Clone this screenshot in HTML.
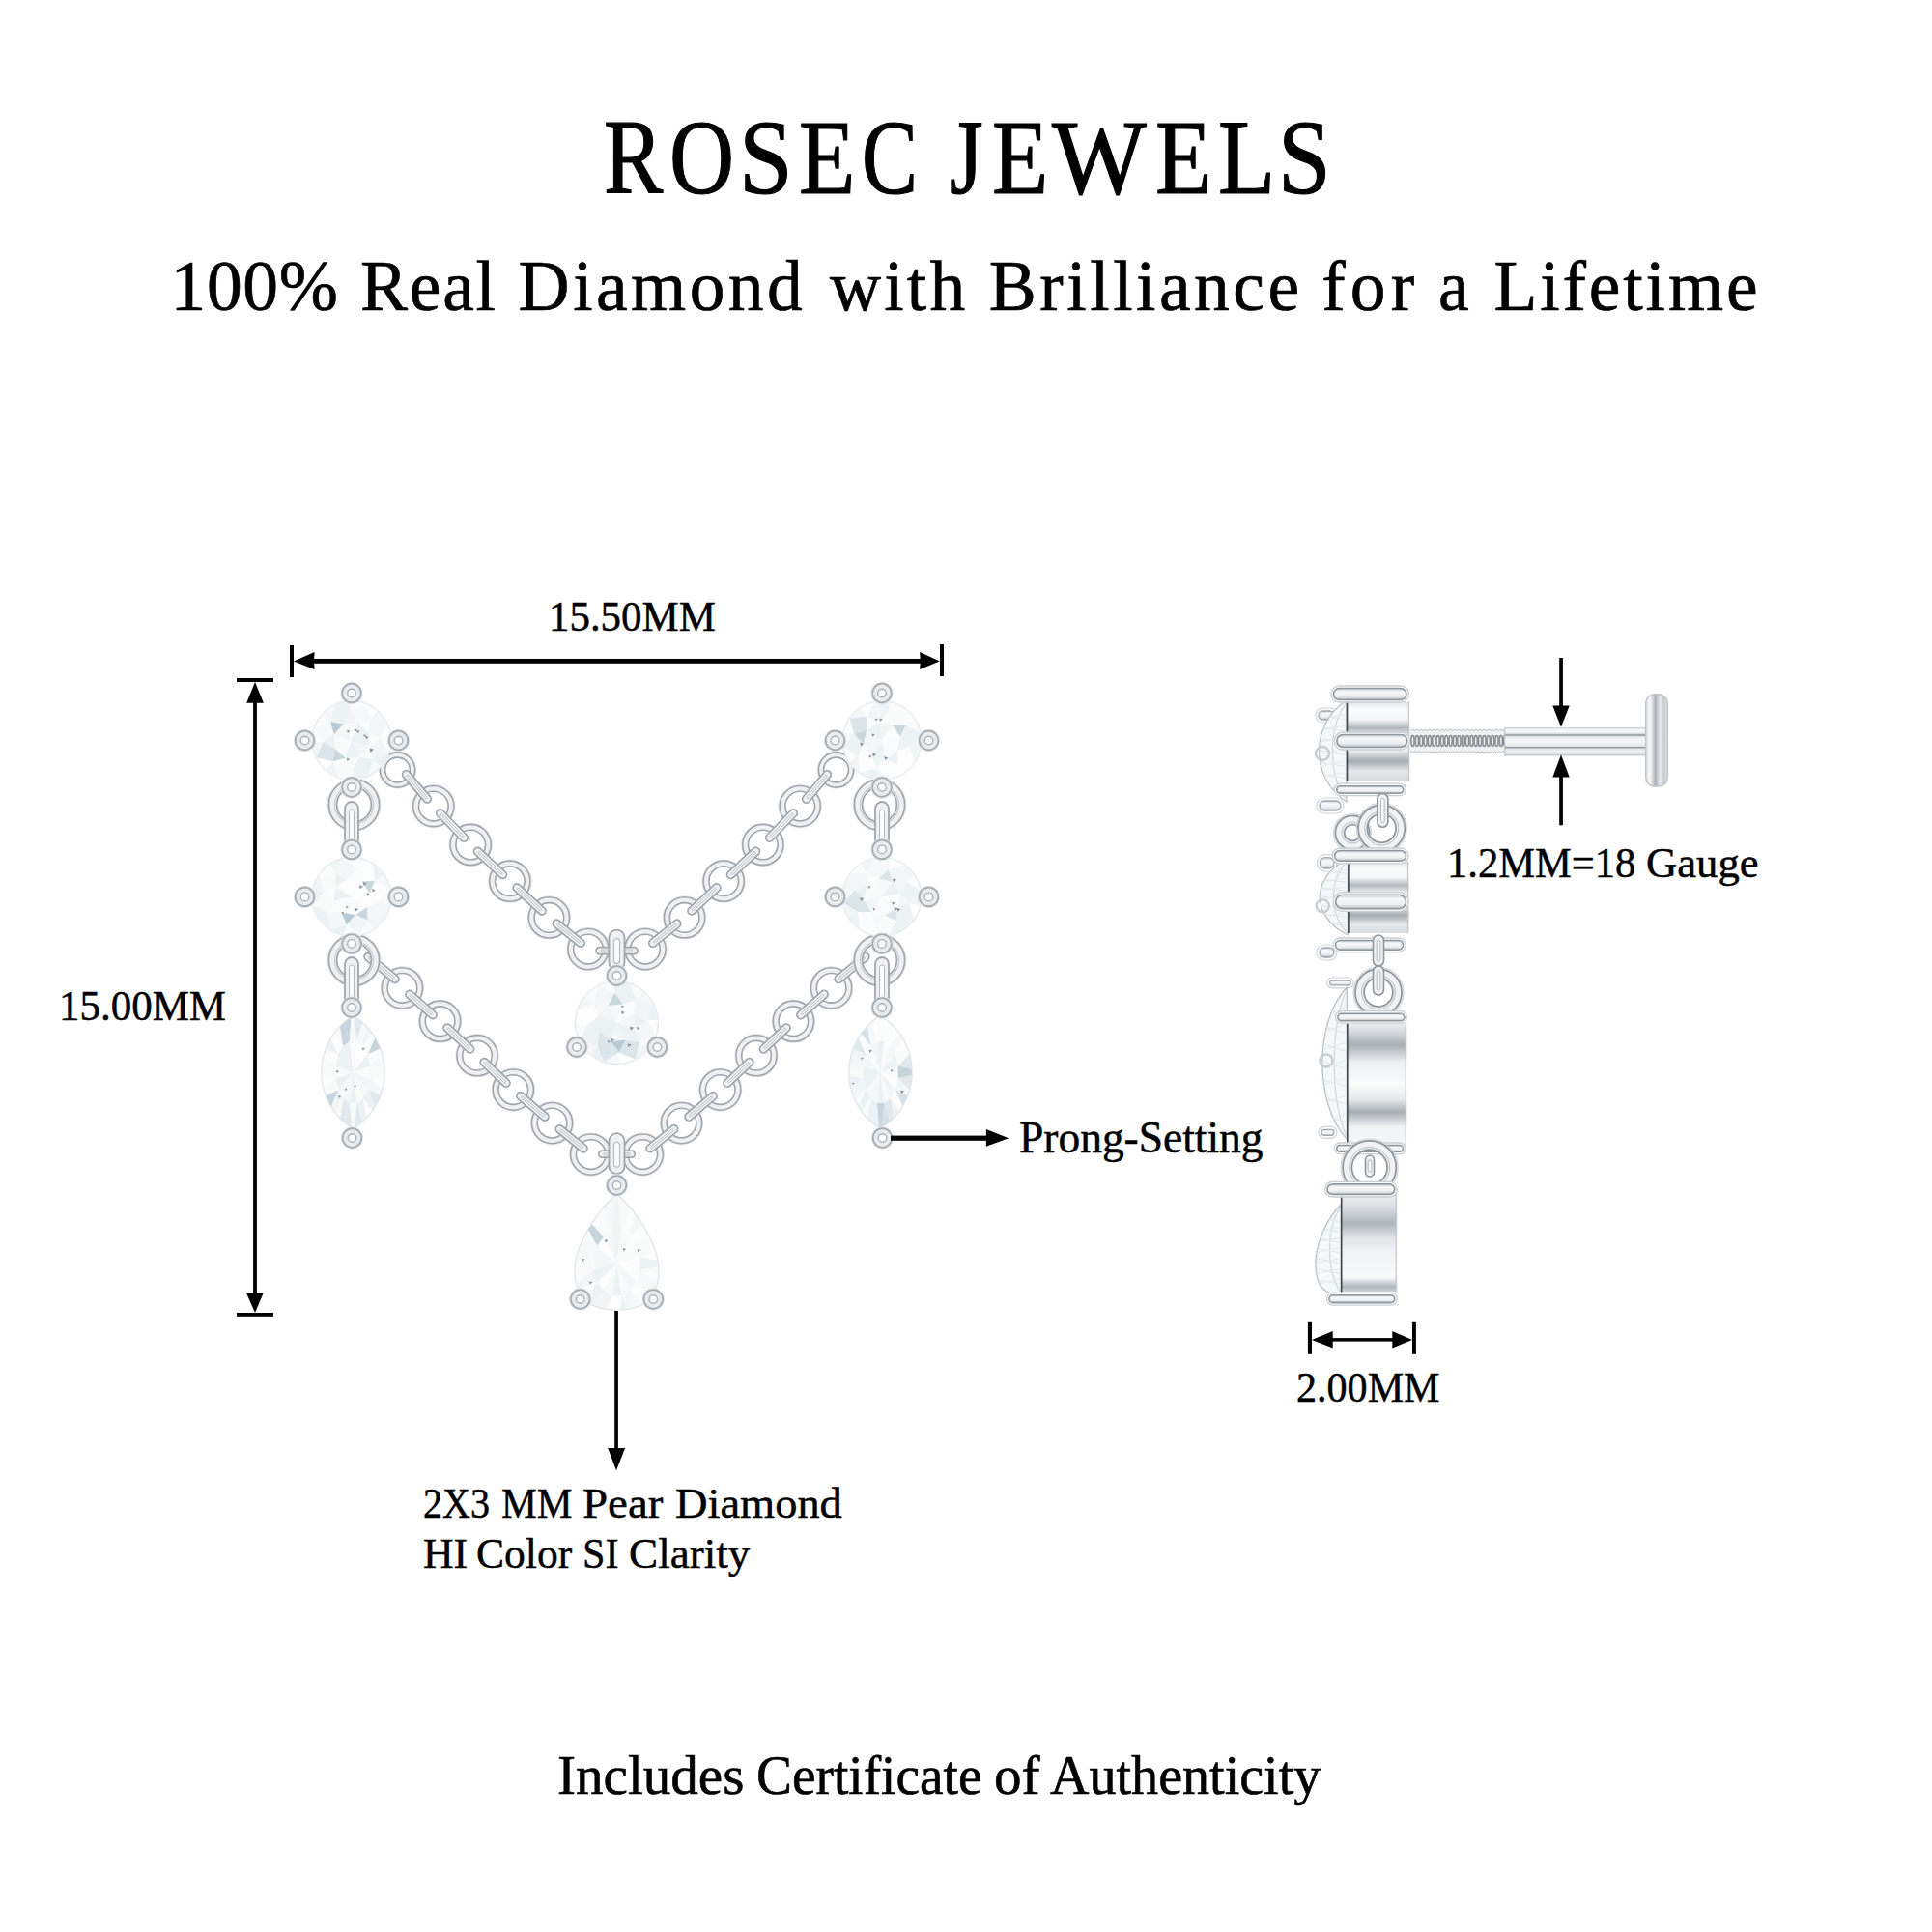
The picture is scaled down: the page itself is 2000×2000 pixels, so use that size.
<!DOCTYPE html>
<html><head><meta charset="utf-8"><style>
html,body{margin:0;padding:0;background:#fff;width:2000px;height:2000px;overflow:hidden}
.t{position:absolute;font-family:"Liberation Serif",serif;color:#000;white-space:nowrap;transform-origin:0 0}
svg{position:absolute;left:0;top:0}
</style></head><body>
<svg width="2000" height="2000" viewBox="0 0 2000 2000">
<circle cx="411.5" cy="797.0" r="19.2" fill="none" stroke="#e4e7ea" stroke-width="1"/><circle cx="411.5" cy="797.0" r="15.5" fill="none" stroke="#a0a6ac" stroke-width="6.8"/><circle cx="411.5" cy="797.0" r="15.5" fill="none" stroke="#eef0f2" stroke-width="3.6"/>
<circle cx="448.8" cy="834.6" r="22.2" fill="none" stroke="#e4e7ea" stroke-width="1"/><circle cx="448.8" cy="834.6" r="18.2" fill="none" stroke="#a0a6ac" stroke-width="7.3999999999999995"/><circle cx="448.8" cy="834.6" r="18.2" fill="none" stroke="#eef0f2" stroke-width="4.199999999999999"/>
<circle cx="487.2" cy="874.5" r="22.2" fill="none" stroke="#e4e7ea" stroke-width="1"/><circle cx="487.2" cy="874.5" r="18.2" fill="none" stroke="#a0a6ac" stroke-width="7.3999999999999995"/><circle cx="487.2" cy="874.5" r="18.2" fill="none" stroke="#eef0f2" stroke-width="4.199999999999999"/>
<circle cx="527.8" cy="912.2" r="22.2" fill="none" stroke="#e4e7ea" stroke-width="1"/><circle cx="527.8" cy="912.2" r="18.2" fill="none" stroke="#a0a6ac" stroke-width="7.3999999999999995"/><circle cx="527.8" cy="912.2" r="18.2" fill="none" stroke="#eef0f2" stroke-width="4.199999999999999"/>
<circle cx="568.4" cy="949.9" r="22.2" fill="none" stroke="#e4e7ea" stroke-width="1"/><circle cx="568.4" cy="949.9" r="18.2" fill="none" stroke="#a0a6ac" stroke-width="7.3999999999999995"/><circle cx="568.4" cy="949.9" r="18.2" fill="none" stroke="#eef0f2" stroke-width="4.199999999999999"/>
<circle cx="609.0" cy="982.6" r="22.2" fill="none" stroke="#e4e7ea" stroke-width="1"/><circle cx="609.0" cy="982.6" r="18.2" fill="none" stroke="#a0a6ac" stroke-width="7.3999999999999995"/><circle cx="609.0" cy="982.6" r="18.2" fill="none" stroke="#eef0f2" stroke-width="4.199999999999999"/>
<circle cx="668.0" cy="982.6" r="22.2" fill="none" stroke="#e4e7ea" stroke-width="1"/><circle cx="668.0" cy="982.6" r="18.2" fill="none" stroke="#a0a6ac" stroke-width="7.3999999999999995"/><circle cx="668.0" cy="982.6" r="18.2" fill="none" stroke="#eef0f2" stroke-width="4.199999999999999"/>
<circle cx="708.6" cy="949.9" r="22.2" fill="none" stroke="#e4e7ea" stroke-width="1"/><circle cx="708.6" cy="949.9" r="18.2" fill="none" stroke="#a0a6ac" stroke-width="7.3999999999999995"/><circle cx="708.6" cy="949.9" r="18.2" fill="none" stroke="#eef0f2" stroke-width="4.199999999999999"/>
<circle cx="749.2" cy="912.2" r="22.2" fill="none" stroke="#e4e7ea" stroke-width="1"/><circle cx="749.2" cy="912.2" r="18.2" fill="none" stroke="#a0a6ac" stroke-width="7.3999999999999995"/><circle cx="749.2" cy="912.2" r="18.2" fill="none" stroke="#eef0f2" stroke-width="4.199999999999999"/>
<circle cx="789.8" cy="874.5" r="22.2" fill="none" stroke="#e4e7ea" stroke-width="1"/><circle cx="789.8" cy="874.5" r="18.2" fill="none" stroke="#a0a6ac" stroke-width="7.3999999999999995"/><circle cx="789.8" cy="874.5" r="18.2" fill="none" stroke="#eef0f2" stroke-width="4.199999999999999"/>
<circle cx="828.2" cy="834.6" r="22.2" fill="none" stroke="#e4e7ea" stroke-width="1"/><circle cx="828.2" cy="834.6" r="18.2" fill="none" stroke="#a0a6ac" stroke-width="7.3999999999999995"/><circle cx="828.2" cy="834.6" r="18.2" fill="none" stroke="#eef0f2" stroke-width="4.199999999999999"/>
<circle cx="865.5" cy="797.0" r="19.2" fill="none" stroke="#e4e7ea" stroke-width="1"/><circle cx="865.5" cy="797.0" r="15.5" fill="none" stroke="#a0a6ac" stroke-width="6.8"/><circle cx="865.5" cy="797.0" r="15.5" fill="none" stroke="#eef0f2" stroke-width="3.6"/>
<g transform="translate(431.5,814.4) rotate(49.4)"><rect x="-20.7" y="-4.0" width="41.3" height="8" rx="4.0" fill="#eef0f2" stroke="#a0a6ac" stroke-width="1.7"/><rect x="-15.7" y="-1" width="31.3" height="2" rx="1" fill="#f8f9fa" stroke="#b4babf" stroke-width="0.9"/></g>
<g transform="translate(468.0,854.5) rotate(46.1)"><rect x="-21.7" y="-4.0" width="43.4" height="8" rx="4.0" fill="#eef0f2" stroke="#a0a6ac" stroke-width="1.7"/><rect x="-16.7" y="-1" width="33.4" height="2" rx="1" fill="#f8f9fa" stroke="#b4babf" stroke-width="0.9"/></g>
<g transform="translate(507.5,893.4) rotate(42.9)"><rect x="-21.7" y="-4.0" width="43.4" height="8" rx="4.0" fill="#eef0f2" stroke="#a0a6ac" stroke-width="1.7"/><rect x="-16.7" y="-1" width="33.4" height="2" rx="1" fill="#f8f9fa" stroke="#b4babf" stroke-width="0.9"/></g>
<g transform="translate(548.1,931.0) rotate(42.9)"><rect x="-21.7" y="-4.0" width="43.4" height="8" rx="4.0" fill="#eef0f2" stroke="#a0a6ac" stroke-width="1.7"/><rect x="-16.7" y="-1" width="33.4" height="2" rx="1" fill="#f8f9fa" stroke="#b4babf" stroke-width="0.9"/></g>
<g transform="translate(588.7,966.2) rotate(38.8)"><rect x="-20.1" y="-4.0" width="40.1" height="8" rx="4.0" fill="#eef0f2" stroke="#a0a6ac" stroke-width="1.7"/><rect x="-15.1" y="-1" width="30.1" height="2" rx="1" fill="#f8f9fa" stroke="#b4babf" stroke-width="0.9"/></g>
<g transform="translate(688.3,966.2) rotate(-38.8)"><rect x="-20.1" y="-4.0" width="40.1" height="8" rx="4.0" fill="#eef0f2" stroke="#a0a6ac" stroke-width="1.7"/><rect x="-15.1" y="-1" width="30.1" height="2" rx="1" fill="#f8f9fa" stroke="#b4babf" stroke-width="0.9"/></g>
<g transform="translate(728.9,931.0) rotate(-42.9)"><rect x="-21.7" y="-4.0" width="43.4" height="8" rx="4.0" fill="#eef0f2" stroke="#a0a6ac" stroke-width="1.7"/><rect x="-16.7" y="-1" width="33.4" height="2" rx="1" fill="#f8f9fa" stroke="#b4babf" stroke-width="0.9"/></g>
<g transform="translate(769.5,893.4) rotate(-42.9)"><rect x="-21.7" y="-4.0" width="43.4" height="8" rx="4.0" fill="#eef0f2" stroke="#a0a6ac" stroke-width="1.7"/><rect x="-16.7" y="-1" width="33.4" height="2" rx="1" fill="#f8f9fa" stroke="#b4babf" stroke-width="0.9"/></g>
<g transform="translate(809.0,854.5) rotate(-46.1)"><rect x="-21.7" y="-4.0" width="43.4" height="8" rx="4.0" fill="#eef0f2" stroke="#a0a6ac" stroke-width="1.7"/><rect x="-16.7" y="-1" width="33.4" height="2" rx="1" fill="#f8f9fa" stroke="#b4babf" stroke-width="0.9"/></g>
<g transform="translate(845.5,814.4) rotate(-49.4)"><rect x="-20.7" y="-4.0" width="41.3" height="8" rx="4.0" fill="#eef0f2" stroke="#a0a6ac" stroke-width="1.7"/><rect x="-15.7" y="-1" width="31.3" height="2" rx="1" fill="#f8f9fa" stroke="#b4babf" stroke-width="0.9"/></g>
<circle cx="416.4" cy="1022.8" r="22.2" fill="none" stroke="#e4e7ea" stroke-width="1"/><circle cx="416.4" cy="1022.8" r="18.2" fill="none" stroke="#a0a6ac" stroke-width="7.3999999999999995"/><circle cx="416.4" cy="1022.8" r="18.2" fill="none" stroke="#eef0f2" stroke-width="4.199999999999999"/>
<circle cx="455.6" cy="1057.2" r="22.2" fill="none" stroke="#e4e7ea" stroke-width="1"/><circle cx="455.6" cy="1057.2" r="18.2" fill="none" stroke="#a0a6ac" stroke-width="7.3999999999999995"/><circle cx="455.6" cy="1057.2" r="18.2" fill="none" stroke="#eef0f2" stroke-width="4.199999999999999"/>
<circle cx="494.0" cy="1092.7" r="22.2" fill="none" stroke="#e4e7ea" stroke-width="1"/><circle cx="494.0" cy="1092.7" r="18.2" fill="none" stroke="#a0a6ac" stroke-width="7.3999999999999995"/><circle cx="494.0" cy="1092.7" r="18.2" fill="none" stroke="#eef0f2" stroke-width="4.199999999999999"/>
<circle cx="531.3" cy="1128.1" r="22.2" fill="none" stroke="#e4e7ea" stroke-width="1"/><circle cx="531.3" cy="1128.1" r="18.2" fill="none" stroke="#a0a6ac" stroke-width="7.3999999999999995"/><circle cx="531.3" cy="1128.1" r="18.2" fill="none" stroke="#eef0f2" stroke-width="4.199999999999999"/>
<circle cx="571.5" cy="1162.6" r="22.2" fill="none" stroke="#e4e7ea" stroke-width="1"/><circle cx="571.5" cy="1162.6" r="18.2" fill="none" stroke="#a0a6ac" stroke-width="7.3999999999999995"/><circle cx="571.5" cy="1162.6" r="18.2" fill="none" stroke="#eef0f2" stroke-width="4.199999999999999"/>
<circle cx="611.7" cy="1195.1" r="22.2" fill="none" stroke="#e4e7ea" stroke-width="1"/><circle cx="611.7" cy="1195.1" r="18.2" fill="none" stroke="#a0a6ac" stroke-width="7.3999999999999995"/><circle cx="611.7" cy="1195.1" r="18.2" fill="none" stroke="#eef0f2" stroke-width="4.199999999999999"/>
<circle cx="665.3" cy="1195.1" r="22.2" fill="none" stroke="#e4e7ea" stroke-width="1"/><circle cx="665.3" cy="1195.1" r="18.2" fill="none" stroke="#a0a6ac" stroke-width="7.3999999999999995"/><circle cx="665.3" cy="1195.1" r="18.2" fill="none" stroke="#eef0f2" stroke-width="4.199999999999999"/>
<circle cx="705.5" cy="1162.6" r="22.2" fill="none" stroke="#e4e7ea" stroke-width="1"/><circle cx="705.5" cy="1162.6" r="18.2" fill="none" stroke="#a0a6ac" stroke-width="7.3999999999999995"/><circle cx="705.5" cy="1162.6" r="18.2" fill="none" stroke="#eef0f2" stroke-width="4.199999999999999"/>
<circle cx="745.7" cy="1128.1" r="22.2" fill="none" stroke="#e4e7ea" stroke-width="1"/><circle cx="745.7" cy="1128.1" r="18.2" fill="none" stroke="#a0a6ac" stroke-width="7.3999999999999995"/><circle cx="745.7" cy="1128.1" r="18.2" fill="none" stroke="#eef0f2" stroke-width="4.199999999999999"/>
<circle cx="783.0" cy="1092.7" r="22.2" fill="none" stroke="#e4e7ea" stroke-width="1"/><circle cx="783.0" cy="1092.7" r="18.2" fill="none" stroke="#a0a6ac" stroke-width="7.3999999999999995"/><circle cx="783.0" cy="1092.7" r="18.2" fill="none" stroke="#eef0f2" stroke-width="4.199999999999999"/>
<circle cx="821.4" cy="1057.2" r="22.2" fill="none" stroke="#e4e7ea" stroke-width="1"/><circle cx="821.4" cy="1057.2" r="18.2" fill="none" stroke="#a0a6ac" stroke-width="7.3999999999999995"/><circle cx="821.4" cy="1057.2" r="18.2" fill="none" stroke="#eef0f2" stroke-width="4.199999999999999"/>
<circle cx="860.6" cy="1022.8" r="22.2" fill="none" stroke="#e4e7ea" stroke-width="1"/><circle cx="860.6" cy="1022.8" r="18.2" fill="none" stroke="#a0a6ac" stroke-width="7.3999999999999995"/><circle cx="860.6" cy="1022.8" r="18.2" fill="none" stroke="#eef0f2" stroke-width="4.199999999999999"/>
<g transform="translate(436.0,1040.0) rotate(41.3)"><rect x="-20.1" y="-4.0" width="40.2" height="8" rx="4.0" fill="#eef0f2" stroke="#a0a6ac" stroke-width="1.7"/><rect x="-15.1" y="-1" width="30.2" height="2" rx="1" fill="#f8f9fa" stroke="#b4babf" stroke-width="0.9"/></g>
<g transform="translate(474.8,1075.0) rotate(42.8)"><rect x="-20.1" y="-4.0" width="40.3" height="8" rx="4.0" fill="#eef0f2" stroke="#a0a6ac" stroke-width="1.7"/><rect x="-15.1" y="-1" width="30.3" height="2" rx="1" fill="#f8f9fa" stroke="#b4babf" stroke-width="0.9"/></g>
<g transform="translate(512.6,1110.4) rotate(43.5)"><rect x="-19.7" y="-4.0" width="39.4" height="8" rx="4.0" fill="#eef0f2" stroke="#a0a6ac" stroke-width="1.7"/><rect x="-14.7" y="-1" width="29.4" height="2" rx="1" fill="#f8f9fa" stroke="#b4babf" stroke-width="0.9"/></g>
<g transform="translate(551.4,1145.3) rotate(40.6)"><rect x="-20.5" y="-4.0" width="41.0" height="8" rx="4.0" fill="#eef0f2" stroke="#a0a6ac" stroke-width="1.7"/><rect x="-15.5" y="-1" width="31.0" height="2" rx="1" fill="#f8f9fa" stroke="#b4babf" stroke-width="0.9"/></g>
<g transform="translate(591.6,1178.8) rotate(39.0)"><rect x="-19.8" y="-4.0" width="39.7" height="8" rx="4.0" fill="#eef0f2" stroke="#a0a6ac" stroke-width="1.7"/><rect x="-14.8" y="-1" width="29.7" height="2" rx="1" fill="#f8f9fa" stroke="#b4babf" stroke-width="0.9"/></g>
<g transform="translate(685.4,1178.8) rotate(-39.0)"><rect x="-19.8" y="-4.0" width="39.7" height="8" rx="4.0" fill="#eef0f2" stroke="#a0a6ac" stroke-width="1.7"/><rect x="-14.8" y="-1" width="29.7" height="2" rx="1" fill="#f8f9fa" stroke="#b4babf" stroke-width="0.9"/></g>
<g transform="translate(725.6,1145.3) rotate(-40.6)"><rect x="-20.5" y="-4.0" width="41.0" height="8" rx="4.0" fill="#eef0f2" stroke="#a0a6ac" stroke-width="1.7"/><rect x="-15.5" y="-1" width="31.0" height="2" rx="1" fill="#f8f9fa" stroke="#b4babf" stroke-width="0.9"/></g>
<g transform="translate(764.4,1110.4) rotate(-43.5)"><rect x="-19.7" y="-4.0" width="39.4" height="8" rx="4.0" fill="#eef0f2" stroke="#a0a6ac" stroke-width="1.7"/><rect x="-14.7" y="-1" width="29.4" height="2" rx="1" fill="#f8f9fa" stroke="#b4babf" stroke-width="0.9"/></g>
<g transform="translate(802.2,1075.0) rotate(-42.8)"><rect x="-20.1" y="-4.0" width="40.3" height="8" rx="4.0" fill="#eef0f2" stroke="#a0a6ac" stroke-width="1.7"/><rect x="-15.1" y="-1" width="30.3" height="2" rx="1" fill="#f8f9fa" stroke="#b4babf" stroke-width="0.9"/></g>
<g transform="translate(841.0,1040.0) rotate(-41.3)"><rect x="-20.1" y="-4.0" width="40.2" height="8" rx="4.0" fill="#eef0f2" stroke="#a0a6ac" stroke-width="1.7"/><rect x="-15.1" y="-1" width="30.2" height="2" rx="1" fill="#f8f9fa" stroke="#b4babf" stroke-width="0.9"/></g>
<g transform="translate(395.0,1002.0) rotate(39.5)"><rect x="-22.0" y="-4.0" width="44.0" height="8" rx="4.0" fill="#eef0f2" stroke="#a0a6ac" stroke-width="1.7"/><rect x="-17.0" y="-1" width="34.0" height="2" rx="1" fill="#f8f9fa" stroke="#b4babf" stroke-width="0.9"/></g>
<g transform="translate(882.0,1002.0) rotate(140.5)"><rect x="-22.0" y="-4.0" width="44.0" height="8" rx="4.0" fill="#eef0f2" stroke="#a0a6ac" stroke-width="1.7"/><rect x="-17.0" y="-1" width="34.0" height="2" rx="1" fill="#f8f9fa" stroke="#b4babf" stroke-width="0.9"/></g>
<g transform="translate(625.8,984.1) rotate(0.0)"><rect x="-8.8" y="-3.5" width="17.5" height="7" rx="3.5" fill="#eef0f2" stroke="#a0a6ac" stroke-width="1.7"/><rect x="-3.8" y="-1" width="7.5" height="2" rx="1" fill="#f8f9fa" stroke="#b4babf" stroke-width="0.9"/></g>
<g transform="translate(651.2,984.1) rotate(180.0)"><rect x="-8.8" y="-3.5" width="17.5" height="7" rx="3.5" fill="#eef0f2" stroke="#a0a6ac" stroke-width="1.7"/><rect x="-3.8" y="-1" width="7.5" height="2" rx="1" fill="#f8f9fa" stroke="#b4babf" stroke-width="0.9"/></g>
<rect x="630.5" y="962.6" width="16" height="42" rx="8" fill="#eef0f2" stroke="#a0a6ac" stroke-width="1.8"/>
<rect x="635.5" y="971.6" width="6" height="26" rx="3" fill="#fafbfc" stroke="#b5babf" stroke-width="1.1"/>
<g transform="translate(627.1,1194.7) rotate(0.0)"><rect x="-7.4" y="-3.5" width="14.8" height="7" rx="3.5" fill="#eef0f2" stroke="#a0a6ac" stroke-width="1.7"/><rect x="-2.4" y="-1" width="4.8" height="2" rx="1" fill="#f8f9fa" stroke="#b4babf" stroke-width="0.9"/></g>
<g transform="translate(649.9,1194.7) rotate(180.0)"><rect x="-7.4" y="-3.5" width="14.8" height="7" rx="3.5" fill="#eef0f2" stroke="#a0a6ac" stroke-width="1.7"/><rect x="-2.4" y="-1" width="4.8" height="2" rx="1" fill="#f8f9fa" stroke="#b4babf" stroke-width="0.9"/></g>
<rect x="630.5" y="1173.2" width="16" height="42" rx="8" fill="#eef0f2" stroke="#a0a6ac" stroke-width="1.8"/>
<rect x="635.5" y="1182.2" width="6" height="26" rx="3" fill="#fafbfc" stroke="#b5babf" stroke-width="1.1"/>
<circle cx="366.5" cy="833.0" r="27.5" fill="none" stroke="#e2e5e8" stroke-width="1"/>
<circle cx="366.5" cy="833.0" r="22" fill="none" stroke="#a0a6ac" stroke-width="10"/>
<circle cx="366.5" cy="833.0" r="22" fill="none" stroke="#eef0f2" stroke-width="6.6"/>
<circle cx="366.5" cy="833.0" r="20" fill="none" stroke="#c2c7cc" stroke-width="1.1"/>
<circle cx="366.5" cy="994.0" r="27.5" fill="none" stroke="#e2e5e8" stroke-width="1"/>
<circle cx="366.5" cy="994.0" r="22" fill="none" stroke="#a0a6ac" stroke-width="10"/>
<circle cx="366.5" cy="994.0" r="22" fill="none" stroke="#eef0f2" stroke-width="6.6"/>
<circle cx="366.5" cy="994.0" r="20" fill="none" stroke="#c2c7cc" stroke-width="1.1"/>
<rect x="357.0" y="830" width="14" height="48" rx="7" fill="#eef0f2" stroke="#a0a6ac" stroke-width="1.8"/>
<rect x="361.5" y="838" width="5" height="32" rx="2.5" fill="#fafbfc" stroke="#b5babf" stroke-width="1"/>
<rect x="357.0" y="991" width="14" height="53" rx="7" fill="#eef0f2" stroke="#a0a6ac" stroke-width="1.8"/>
<rect x="361.5" y="999" width="5" height="37" rx="2.5" fill="#fafbfc" stroke="#b5babf" stroke-width="1"/>
<circle cx="364.0" cy="766.5" r="41" fill="#f5f8f9" stroke="#e3e8eb" stroke-width="1"/><polygon points="364.0,766.5 382.2,772.8 372.4,783.8" fill="#f1f5f6"/><polygon points="364.0,766.5 372.4,783.8 357.7,784.7" fill="#ecf1f3"/><polygon points="364.0,766.5 357.7,784.7 346.7,774.9" fill="#f9fbfb"/><polygon points="364.0,766.5 346.7,774.9 345.8,760.2" fill="#f9fbfb"/><polygon points="364.0,766.5 345.8,760.2 355.6,749.2" fill="#f4f7f8"/><polygon points="364.0,766.5 355.6,749.2 370.3,748.3" fill="#f9fbfb"/><polygon points="364.0,766.5 370.3,748.3 381.3,758.1" fill="#edf2f4"/><polygon points="364.0,766.5 381.3,758.1 382.2,772.8" fill="#ecf1f3"/><polygon points="382.2,772.8 386.1,786.1 372.4,783.8" fill="#f9fbfb"/><polygon points="372.4,783.8 365.7,796.0 357.7,784.7" fill="#f9fbfb"/><polygon points="357.7,784.7 344.4,788.6 346.7,774.9" fill="#c9d7de"/><polygon points="346.7,774.9 334.5,768.2 345.8,760.2" fill="#edf2f4"/><polygon points="345.8,760.2 341.9,746.9 355.6,749.2" fill="#b9cbd4"/><polygon points="355.6,749.2 362.3,737.0 370.3,748.3" fill="#f1f5f6"/><polygon points="370.3,748.3 383.6,744.4 381.3,758.1" fill="#fbfcfc"/><polygon points="381.3,758.1 393.5,764.8 382.2,772.8" fill="#fafbfc"/><polygon points="393.5,764.8 382.2,772.8 386.1,786.1 402.3,779.8" fill="#f1f5f6"/><polygon points="386.1,786.1 372.4,783.8 365.7,796.0 381.7,803.0" fill="#ecf1f3"/><polygon points="365.7,796.0 357.7,784.7 344.4,788.6 350.7,804.8" fill="#f9fbfb"/><polygon points="344.4,788.6 346.7,774.9 334.5,768.2 327.5,784.2" fill="#dce6ea"/><polygon points="334.5,768.2 345.8,760.2 341.9,746.9 325.7,753.2" fill="#f6f8f9"/><polygon points="341.9,746.9 355.6,749.2 362.3,737.0 346.3,730.0" fill="#edf2f4"/><polygon points="362.3,737.0 370.3,748.3 383.6,744.4 377.3,728.2" fill="#f6f8f9"/><polygon points="383.6,744.4 381.3,758.1 393.5,764.8 400.5,748.8" fill="#f4f7f8"/><polygon points="386.1,786.1 402.3,779.8 394.3,793.5" fill="#edf2f4"/><polygon points="386.1,786.1 394.3,793.5 381.7,803.0" fill="#f6f8f9"/><polygon points="365.7,796.0 381.7,803.0 366.4,807.0" fill="#ecf1f3"/><polygon points="365.7,796.0 366.4,807.0 350.7,804.8" fill="#fafbfc"/><polygon points="344.4,788.6 350.7,804.8 337.0,796.8" fill="#f1f5f6"/><polygon points="344.4,788.6 337.0,796.8 327.5,784.2" fill="#fdfdfd"/><polygon points="334.5,768.2 327.5,784.2 323.5,768.9" fill="#f1f5f6"/><polygon points="334.5,768.2 323.5,768.9 325.7,753.2" fill="#fbfcfc"/><polygon points="341.9,746.9 325.7,753.2 333.7,739.5" fill="#fafbfc"/><polygon points="341.9,746.9 333.7,739.5 346.3,730.0" fill="#f6f8f9"/><polygon points="362.3,737.0 346.3,730.0 361.6,726.0" fill="#edf2f4"/><polygon points="362.3,737.0 361.6,726.0 377.3,728.2" fill="#fafbfc"/><polygon points="383.6,744.4 377.3,728.2 391.0,736.2" fill="#fafbfc"/><polygon points="383.6,744.4 391.0,736.2 400.5,748.8" fill="#f4f7f8"/><polygon points="393.5,764.8 400.5,748.8 404.5,764.1" fill="#fdfdfd"/><polygon points="393.5,764.8 404.5,764.1 402.3,779.8" fill="#fbfcfc"/><polygon points="366.7,754.7 370.1,755.7 367.4,758.1" fill="#6f7c83" opacity="0.8"/><polygon points="369.6,755.9 372.7,756.8 370.2,759.0" fill="#6f7c83" opacity="0.8"/><polygon points="382.6,774.4 387.0,775.8 383.4,778.9" fill="#6f7c83" opacity="0.8"/><polygon points="358.8,784.8 362.2,785.8 359.5,788.1" fill="#6f7c83" opacity="0.8"/><polygon points="378.2,761.7 381.7,762.8 378.9,765.3" fill="#6f7c83" opacity="0.8"/><polygon points="359.2,755.8 362.5,756.8 359.8,759.1" fill="#6f7c83" opacity="0.8"/><polygon points="376.4,760.3 379.0,761.1 376.9,762.9" fill="#6f7c83" opacity="0.8"/><circle cx="364.0" cy="766.5" r="41" fill="none" stroke="#e8ecef" stroke-width="1"/>
<circle cx="364.0" cy="717.5" r="11.100000000000001" fill="none" stroke="#e3e6e9" stroke-width="1.1"/><circle cx="364.0" cy="717.5" r="9.8" fill="#e9ecee" stroke="#a6acb1" stroke-width="1.7"/><circle cx="364.0" cy="717.5" r="4.3" fill="#fbfcfc" stroke="#aeb3b8" stroke-width="1.4"/>
<circle cx="315.5" cy="766.5" r="11.100000000000001" fill="none" stroke="#e3e6e9" stroke-width="1.1"/><circle cx="315.5" cy="766.5" r="9.8" fill="#e9ecee" stroke="#a6acb1" stroke-width="1.7"/><circle cx="315.5" cy="766.5" r="4.3" fill="#fbfcfc" stroke="#aeb3b8" stroke-width="1.4"/>
<circle cx="412.5" cy="766.5" r="11.100000000000001" fill="none" stroke="#e3e6e9" stroke-width="1.1"/><circle cx="412.5" cy="766.5" r="9.8" fill="#e9ecee" stroke="#a6acb1" stroke-width="1.7"/><circle cx="412.5" cy="766.5" r="4.3" fill="#fbfcfc" stroke="#aeb3b8" stroke-width="1.4"/>
<circle cx="364.0" cy="815.0" r="11.100000000000001" fill="none" stroke="#e3e6e9" stroke-width="1.1"/><circle cx="364.0" cy="815.0" r="9.8" fill="#e9ecee" stroke="#a6acb1" stroke-width="1.7"/><circle cx="364.0" cy="815.0" r="4.3" fill="#fbfcfc" stroke="#aeb3b8" stroke-width="1.4"/>
<circle cx="364.0" cy="928.4" r="41" fill="#f5f8f9" stroke="#e3e8eb" stroke-width="1"/><polygon points="364.0,928.4 380.2,938.9 368.0,947.2" fill="#f9fbfb"/><polygon points="364.0,928.4 368.0,947.2 353.5,944.6" fill="#f9fbfb"/><polygon points="364.0,928.4 353.5,944.6 345.2,932.4" fill="#fafbfc"/><polygon points="364.0,928.4 345.2,932.4 347.8,917.9" fill="#ecf1f3"/><polygon points="364.0,928.4 347.8,917.9 360.0,909.6" fill="#fdfdfd"/><polygon points="364.0,928.4 360.0,909.6 374.5,912.2" fill="#fdfdfd"/><polygon points="364.0,928.4 374.5,912.2 382.8,924.4" fill="#fbfcfc"/><polygon points="364.0,928.4 382.8,924.4 380.2,938.9" fill="#fdfdfd"/><polygon points="380.2,938.9 380.7,952.7 368.0,947.2" fill="#c9d7de"/><polygon points="368.0,947.2 358.6,957.4 353.5,944.6" fill="#b9cbd4"/><polygon points="353.5,944.6 339.7,945.1 345.2,932.4" fill="#fafbfc"/><polygon points="345.2,932.4 335.0,923.0 347.8,917.9" fill="#fafbfc"/><polygon points="347.8,917.9 347.3,904.1 360.0,909.6" fill="#edf2f4"/><polygon points="360.0,909.6 369.4,899.4 374.5,912.2" fill="#fafbfc"/><polygon points="374.5,912.2 388.3,911.7 382.8,924.4" fill="#c9d7de"/><polygon points="382.8,924.4 393.0,933.8 380.2,938.9" fill="#fdfdfd"/><polygon points="393.0,933.8 380.2,938.9 380.7,952.7 398.1,950.5" fill="#f4f7f8"/><polygon points="380.7,952.7 368.0,947.2 358.6,957.4 372.5,968.1" fill="#f1f5f6"/><polygon points="358.6,957.4 353.5,944.6 339.7,945.1 341.9,962.5" fill="#f4f7f8"/><polygon points="339.7,945.1 345.2,932.4 335.0,923.0 324.3,936.9" fill="#f9fbfb"/><polygon points="335.0,923.0 347.8,917.9 347.3,904.1 329.9,906.3" fill="#f9fbfb"/><polygon points="347.3,904.1 360.0,909.6 369.4,899.4 355.5,888.7" fill="#f4f7f8"/><polygon points="369.4,899.4 374.5,912.2 388.3,911.7 386.1,894.3" fill="#fbfcfc"/><polygon points="388.3,911.7 382.8,924.4 393.0,933.8 403.7,919.9" fill="#fdfdfd"/><polygon points="380.7,952.7 398.1,950.5 387.0,961.8" fill="#f1f5f6"/><polygon points="380.7,952.7 387.0,961.8 372.5,968.1" fill="#f9fbfb"/><polygon points="358.6,957.4 372.5,968.1 356.6,968.3" fill="#fbfcfc"/><polygon points="358.6,957.4 356.6,968.3 341.9,962.5" fill="#edf2f4"/><polygon points="339.7,945.1 341.9,962.5 330.6,951.4" fill="#ecf1f3"/><polygon points="339.7,945.1 330.6,951.4 324.3,936.9" fill="#ecf1f3"/><polygon points="335.0,923.0 324.3,936.9 324.1,921.0" fill="#ecf1f3"/><polygon points="335.0,923.0 324.1,921.0 329.9,906.3" fill="#f1f5f6"/><polygon points="347.3,904.1 329.9,906.3 341.0,895.0" fill="#fdfdfd"/><polygon points="347.3,904.1 341.0,895.0 355.5,888.7" fill="#f1f5f6"/><polygon points="369.4,899.4 355.5,888.7 371.4,888.5" fill="#fbfcfc"/><polygon points="369.4,899.4 371.4,888.5 386.1,894.3" fill="#fbfcfc"/><polygon points="388.3,911.7 386.1,894.3 397.4,905.4" fill="#ecf1f3"/><polygon points="388.3,911.7 397.4,905.4 403.7,919.9" fill="#f6f8f9"/><polygon points="393.0,933.8 403.7,919.9 403.9,935.8" fill="#f9fbfb"/><polygon points="393.0,933.8 403.9,935.8 398.1,950.5" fill="#f4f7f8"/><polygon points="379.5,924.3 383.0,925.4 380.2,927.8" fill="#6f7c83" opacity="0.8"/><polygon points="376.0,913.3 379.6,914.4 376.7,916.9" fill="#6f7c83" opacity="0.8"/><polygon points="385.1,920.1 388.7,921.2 385.8,923.7" fill="#6f7c83" opacity="0.8"/><polygon points="371.9,916.3 375.8,917.5 372.7,920.2" fill="#6f7c83" opacity="0.8"/><polygon points="367.5,939.9 371.1,940.9 368.3,943.4" fill="#6f7c83" opacity="0.8"/><polygon points="358.0,937.7 360.9,938.5 358.6,940.5" fill="#6f7c83" opacity="0.8"/><polygon points="353.6,943.7 356.3,944.5 354.1,946.4" fill="#6f7c83" opacity="0.8"/><circle cx="364.0" cy="928.4" r="41" fill="none" stroke="#e8ecef" stroke-width="1"/>
<circle cx="364.0" cy="879.4" r="11.100000000000001" fill="none" stroke="#e3e6e9" stroke-width="1.1"/><circle cx="364.0" cy="879.4" r="9.8" fill="#e9ecee" stroke="#a6acb1" stroke-width="1.7"/><circle cx="364.0" cy="879.4" r="4.3" fill="#fbfcfc" stroke="#aeb3b8" stroke-width="1.4"/>
<circle cx="315.5" cy="928.4" r="11.100000000000001" fill="none" stroke="#e3e6e9" stroke-width="1.1"/><circle cx="315.5" cy="928.4" r="9.8" fill="#e9ecee" stroke="#a6acb1" stroke-width="1.7"/><circle cx="315.5" cy="928.4" r="4.3" fill="#fbfcfc" stroke="#aeb3b8" stroke-width="1.4"/>
<circle cx="412.5" cy="928.4" r="11.100000000000001" fill="none" stroke="#e3e6e9" stroke-width="1.1"/><circle cx="412.5" cy="928.4" r="9.8" fill="#e9ecee" stroke="#a6acb1" stroke-width="1.7"/><circle cx="412.5" cy="928.4" r="4.3" fill="#fbfcfc" stroke="#aeb3b8" stroke-width="1.4"/>
<circle cx="364.0" cy="976.9" r="11.100000000000001" fill="none" stroke="#e3e6e9" stroke-width="1.1"/><circle cx="364.0" cy="976.9" r="9.8" fill="#e9ecee" stroke="#a6acb1" stroke-width="1.7"/><circle cx="364.0" cy="976.9" r="4.3" fill="#fbfcfc" stroke="#aeb3b8" stroke-width="1.4"/>
<clipPath id="clip371"><path d="M365.5,1051.5 C409.06,1077.196 409.06,1142.604 365.5,1168.3 C321.94,1142.604 321.94,1077.196 365.5,1051.5Z"/></clipPath><path d="M365.5,1051.5 C409.06,1077.196 409.06,1142.604 365.5,1168.3 C321.94,1142.604 321.94,1077.196 365.5,1051.5Z" fill="#f5f8f9"/><g clip-path="url(#clip371)"><polygon points="383.6,1116.1 411.7,1109.9 408.2,1141.2" fill="#fbfcfc"/><polygon points="365.5,1109.9 383.6,1116.1 380.9,1128.0" fill="#f4f7f8"/><polygon points="383.6,1116.1 408.2,1141.2 380.9,1128.0" fill="#f4f7f8"/><polygon points="380.9,1128.0 408.2,1141.2 398.2,1167.7" fill="#e1e9ec"/><polygon points="365.5,1109.9 380.9,1128.0 375.8,1137.0" fill="#f6f8f9"/><polygon points="380.9,1128.0 398.2,1167.7 375.8,1137.0" fill="#ecf1f3"/><polygon points="375.8,1137.0 398.2,1167.7 383.2,1185.4" fill="#fdfdfd"/><polygon points="365.5,1109.9 375.8,1137.0 369.2,1141.9" fill="#f9fbfb"/><polygon points="375.8,1137.0 383.2,1185.4 369.2,1141.9" fill="#ecf1f3"/><polygon points="369.2,1141.9 383.2,1185.4 365.5,1191.7" fill="#e1e9ec"/><polygon points="365.5,1109.9 369.2,1141.9 362.0,1142.0" fill="#ecf1f3"/><polygon points="369.2,1141.9 365.5,1191.7 362.0,1142.0" fill="#f8fafa"/><polygon points="362.0,1142.0 365.5,1191.7 347.8,1185.4" fill="#e1e9ec"/><polygon points="365.5,1109.9 362.0,1142.0 355.3,1137.2" fill="#f4f7f8"/><polygon points="362.0,1142.0 347.8,1185.4 355.3,1137.2" fill="#e1e9ec"/><polygon points="355.3,1137.2 347.8,1185.4 332.8,1167.7" fill="#f9fbfb"/><polygon points="365.5,1109.9 355.3,1137.2 350.2,1128.2" fill="#f6f8f9"/><polygon points="355.3,1137.2 332.8,1167.7 350.2,1128.2" fill="#f1f5f6"/><polygon points="350.2,1128.2 332.8,1167.7 322.8,1141.2" fill="#c7d5dc"/><polygon points="365.5,1109.9 350.2,1128.2 347.4,1116.4" fill="#ecf1f3"/><polygon points="350.2,1128.2 322.8,1141.2 347.4,1116.4" fill="#f8fafa"/><polygon points="347.4,1116.4 322.8,1141.2 319.3,1109.9" fill="#fcfcfd"/><polygon points="365.5,1109.9 347.4,1116.4 347.4,1103.7" fill="#fafbfc"/><polygon points="347.4,1116.4 319.3,1109.9 347.4,1103.7" fill="#f8fafa"/><polygon points="347.4,1103.7 319.3,1109.9 322.8,1078.6" fill="#f9fbfb"/><polygon points="365.5,1109.9 347.4,1103.7 350.1,1091.8" fill="#edf2f4"/><polygon points="347.4,1103.7 322.8,1078.6 350.1,1091.8" fill="#fcfcfd"/><polygon points="350.1,1091.8 322.8,1078.6 332.8,1052.1" fill="#ecf1f3"/><polygon points="365.5,1109.9 350.1,1091.8 355.2,1082.8" fill="#ecf1f3"/><polygon points="350.1,1091.8 332.8,1052.1 355.2,1082.8" fill="#fcfcfd"/><polygon points="355.2,1082.8 332.8,1052.1 347.8,1034.4" fill="#f6f8f9"/><polygon points="365.5,1109.9 355.2,1082.8 361.8,1077.9" fill="#ecf1f3"/><polygon points="355.2,1082.8 347.8,1034.4 361.8,1077.9" fill="#c7d5dc"/><polygon points="361.8,1077.9 347.8,1034.4 365.5,1028.1" fill="#c7d5dc"/><polygon points="365.5,1109.9 361.8,1077.9 369.0,1077.8" fill="#fafbfc"/><polygon points="361.8,1077.9 365.5,1028.1 369.0,1077.8" fill="#f8fafa"/><polygon points="369.0,1077.8 365.5,1028.1 383.2,1034.4" fill="#e1e9ec"/><polygon points="365.5,1109.9 369.0,1077.8 375.7,1082.6" fill="#fdfdfd"/><polygon points="369.0,1077.8 383.2,1034.4 375.7,1082.6" fill="#f6f8f9"/><polygon points="375.7,1082.6 383.2,1034.4 398.2,1052.1" fill="#f1f5f6"/><polygon points="365.5,1109.9 375.7,1082.6 380.8,1091.6" fill="#fdfdfd"/><polygon points="375.7,1082.6 398.2,1052.1 380.8,1091.6" fill="#fafbfc"/><polygon points="380.8,1091.6 398.2,1052.1 408.2,1078.6" fill="#c7d5dc"/><polygon points="365.5,1109.9 380.8,1091.6 383.6,1103.4" fill="#ecf1f3"/><polygon points="380.8,1091.6 408.2,1078.6 383.6,1103.4" fill="#fafbfc"/><polygon points="383.6,1103.4 408.2,1078.6 411.7,1109.9" fill="#f6f8f9"/><polygon points="365.5,1109.9 383.6,1103.4 383.6,1116.1" fill="#fbfcfc"/><polygon points="383.6,1103.4 411.7,1109.9 383.6,1116.1" fill="#f8fafa"/><polygon points="374.8,1084.4 378.1,1085.3 375.5,1087.6" fill="#6f7c83" opacity="0.8"/><polygon points="357.0,1126.6 359.6,1127.4 357.5,1129.2" fill="#6f7c83" opacity="0.8"/><polygon points="348.0,1107.9 351.2,1108.8 348.6,1111.1" fill="#6f7c83" opacity="0.8"/><polygon points="350.2,1134.0 353.1,1134.9 350.8,1136.9" fill="#6f7c83" opacity="0.8"/><polygon points="366.6,1123.2 369.2,1123.9 367.1,1125.8" fill="#6f7c83" opacity="0.8"/></g><path d="M365.5,1051.5 C409.06,1077.196 409.06,1142.604 365.5,1168.3 C321.94,1142.604 321.94,1077.196 365.5,1051.5Z" fill="none" stroke="#dfe5e8" stroke-width="1.2"/>
<circle cx="364.0" cy="1043.0" r="11.100000000000001" fill="none" stroke="#e3e6e9" stroke-width="1.1"/><circle cx="364.0" cy="1043.0" r="9.8" fill="#e9ecee" stroke="#a6acb1" stroke-width="1.7"/><circle cx="364.0" cy="1043.0" r="4.3" fill="#fbfcfc" stroke="#aeb3b8" stroke-width="1.4"/>
<circle cx="364.5" cy="1178.0" r="11.100000000000001" fill="none" stroke="#e3e6e9" stroke-width="1.1"/><circle cx="364.5" cy="1178.0" r="9.8" fill="#e9ecee" stroke="#a6acb1" stroke-width="1.7"/><circle cx="364.5" cy="1178.0" r="4.3" fill="#fbfcfc" stroke="#aeb3b8" stroke-width="1.4"/>
<circle cx="910.5" cy="833.0" r="27.5" fill="none" stroke="#e2e5e8" stroke-width="1"/>
<circle cx="910.5" cy="833.0" r="22" fill="none" stroke="#a0a6ac" stroke-width="10"/>
<circle cx="910.5" cy="833.0" r="22" fill="none" stroke="#eef0f2" stroke-width="6.6"/>
<circle cx="910.5" cy="833.0" r="20" fill="none" stroke="#c2c7cc" stroke-width="1.1"/>
<circle cx="910.5" cy="994.0" r="27.5" fill="none" stroke="#e2e5e8" stroke-width="1"/>
<circle cx="910.5" cy="994.0" r="22" fill="none" stroke="#a0a6ac" stroke-width="10"/>
<circle cx="910.5" cy="994.0" r="22" fill="none" stroke="#eef0f2" stroke-width="6.6"/>
<circle cx="910.5" cy="994.0" r="20" fill="none" stroke="#c2c7cc" stroke-width="1.1"/>
<rect x="906.0" y="830" width="14" height="48" rx="7" fill="#eef0f2" stroke="#a0a6ac" stroke-width="1.8"/>
<rect x="910.5" y="838" width="5" height="32" rx="2.5" fill="#fafbfc" stroke="#b5babf" stroke-width="1"/>
<rect x="906.0" y="991" width="14" height="53" rx="7" fill="#eef0f2" stroke="#a0a6ac" stroke-width="1.8"/>
<rect x="910.5" y="999" width="5" height="37" rx="2.5" fill="#fafbfc" stroke="#b5babf" stroke-width="1"/>
<circle cx="913.0" cy="766.5" r="41" fill="#f5f8f9" stroke="#e3e8eb" stroke-width="1"/><polygon points="913.0,766.5 928.9,777.4 916.5,785.5" fill="#fafbfc"/><polygon points="913.0,766.5 916.5,785.5 902.1,782.4" fill="#edf2f4"/><polygon points="913.0,766.5 902.1,782.4 894.0,770.0" fill="#f4f7f8"/><polygon points="913.0,766.5 894.0,770.0 897.1,755.6" fill="#f4f7f8"/><polygon points="913.0,766.5 897.1,755.6 909.5,747.5" fill="#edf2f4"/><polygon points="913.0,766.5 909.5,747.5 923.9,750.6" fill="#f1f5f6"/><polygon points="913.0,766.5 923.9,750.6 932.0,763.0" fill="#fdfdfd"/><polygon points="913.0,766.5 932.0,763.0 928.9,777.4" fill="#fafbfc"/><polygon points="928.9,777.4 929.0,791.3 916.5,785.5" fill="#ecf1f3"/><polygon points="916.5,785.5 906.8,795.4 902.1,782.4" fill="#f1f5f6"/><polygon points="902.1,782.4 888.2,782.5 894.0,770.0" fill="#fdfdfd"/><polygon points="894.0,770.0 884.1,760.3 897.1,755.6" fill="#c9d7de"/><polygon points="897.1,755.6 897.0,741.7 909.5,747.5" fill="#fdfdfd"/><polygon points="909.5,747.5 919.2,737.6 923.9,750.6" fill="#fdfdfd"/><polygon points="923.9,750.6 937.8,750.5 932.0,763.0" fill="#c9d7de"/><polygon points="932.0,763.0 941.9,772.7 928.9,777.4" fill="#edf2f4"/><polygon points="941.9,772.7 928.9,777.4 929.0,791.3 946.4,789.6" fill="#fdfdfd"/><polygon points="929.0,791.3 916.5,785.5 906.8,795.4 920.3,806.4" fill="#fbfcfc"/><polygon points="906.8,795.4 902.1,782.4 888.2,782.5 889.9,799.9" fill="#fdfdfd"/><polygon points="888.2,782.5 894.0,770.0 884.1,760.3 873.1,773.8" fill="#edf2f4"/><polygon points="884.1,760.3 897.1,755.6 897.0,741.7 879.6,743.4" fill="#dce6ea"/><polygon points="897.0,741.7 909.5,747.5 919.2,737.6 905.7,726.6" fill="#f1f5f6"/><polygon points="919.2,737.6 923.9,750.6 937.8,750.5 936.1,733.1" fill="#f9fbfb"/><polygon points="937.8,750.5 932.0,763.0 941.9,772.7 952.9,759.2" fill="#ecf1f3"/><polygon points="929.0,791.3 946.4,789.6 935.0,800.6" fill="#fdfdfd"/><polygon points="929.0,791.3 935.0,800.6 920.3,806.4" fill="#fdfdfd"/><polygon points="906.8,795.4 920.3,806.4 904.5,806.2" fill="#f1f5f6"/><polygon points="906.8,795.4 904.5,806.2 889.9,799.9" fill="#edf2f4"/><polygon points="888.2,782.5 889.9,799.9 878.9,788.5" fill="#f1f5f6"/><polygon points="888.2,782.5 878.9,788.5 873.1,773.8" fill="#fbfcfc"/><polygon points="884.1,760.3 873.1,773.8 873.3,758.0" fill="#f4f7f8"/><polygon points="884.1,760.3 873.3,758.0 879.6,743.4" fill="#fdfdfd"/><polygon points="897.0,741.7 879.6,743.4 891.0,732.4" fill="#f4f7f8"/><polygon points="897.0,741.7 891.0,732.4 905.7,726.6" fill="#fdfdfd"/><polygon points="919.2,737.6 905.7,726.6 921.5,726.8" fill="#edf2f4"/><polygon points="919.2,737.6 921.5,726.8 936.1,733.1" fill="#f9fbfb"/><polygon points="937.8,750.5 936.1,733.1 947.1,744.5" fill="#fafbfc"/><polygon points="937.8,750.5 947.1,744.5 952.9,759.2" fill="#f9fbfb"/><polygon points="941.9,772.7 952.9,759.2 952.7,775.0" fill="#f1f5f6"/><polygon points="941.9,772.7 952.7,775.0 946.4,789.6" fill="#f1f5f6"/><polygon points="915.4,783.2 919.3,784.3 916.2,787.0" fill="#6f7c83" opacity="0.8"/><polygon points="903.1,779.6 907.2,780.8 903.9,783.6" fill="#6f7c83" opacity="0.8"/><polygon points="910.3,743.4 913.8,744.4 911.0,746.9" fill="#6f7c83" opacity="0.8"/><polygon points="899.5,781.8 902.5,782.7 900.1,784.8" fill="#6f7c83" opacity="0.8"/><polygon points="890.3,768.5 894.4,769.7 891.1,772.6" fill="#6f7c83" opacity="0.8"/><polygon points="905.9,743.8 908.8,744.6 906.5,746.6" fill="#6f7c83" opacity="0.8"/><polygon points="902.5,759.6 905.8,760.6 903.1,762.8" fill="#6f7c83" opacity="0.8"/><circle cx="913.0" cy="766.5" r="41" fill="none" stroke="#e8ecef" stroke-width="1"/>
<circle cx="913.0" cy="717.5" r="11.100000000000001" fill="none" stroke="#e3e6e9" stroke-width="1.1"/><circle cx="913.0" cy="717.5" r="9.8" fill="#e9ecee" stroke="#a6acb1" stroke-width="1.7"/><circle cx="913.0" cy="717.5" r="4.3" fill="#fbfcfc" stroke="#aeb3b8" stroke-width="1.4"/>
<circle cx="864.5" cy="766.5" r="11.100000000000001" fill="none" stroke="#e3e6e9" stroke-width="1.1"/><circle cx="864.5" cy="766.5" r="9.8" fill="#e9ecee" stroke="#a6acb1" stroke-width="1.7"/><circle cx="864.5" cy="766.5" r="4.3" fill="#fbfcfc" stroke="#aeb3b8" stroke-width="1.4"/>
<circle cx="961.5" cy="766.5" r="11.100000000000001" fill="none" stroke="#e3e6e9" stroke-width="1.1"/><circle cx="961.5" cy="766.5" r="9.8" fill="#e9ecee" stroke="#a6acb1" stroke-width="1.7"/><circle cx="961.5" cy="766.5" r="4.3" fill="#fbfcfc" stroke="#aeb3b8" stroke-width="1.4"/>
<circle cx="913.0" cy="815.0" r="11.100000000000001" fill="none" stroke="#e3e6e9" stroke-width="1.1"/><circle cx="913.0" cy="815.0" r="9.8" fill="#e9ecee" stroke="#a6acb1" stroke-width="1.7"/><circle cx="913.0" cy="815.0" r="4.3" fill="#fbfcfc" stroke="#aeb3b8" stroke-width="1.4"/>
<circle cx="913.0" cy="928.4" r="41" fill="#f5f8f9" stroke="#e3e8eb" stroke-width="1"/><polygon points="913.0,928.4 928.6,939.6 916.1,947.4" fill="#f9fbfb"/><polygon points="913.0,928.4 916.1,947.4 901.8,944.0" fill="#fafbfc"/><polygon points="913.0,928.4 901.8,944.0 894.0,931.5" fill="#f4f7f8"/><polygon points="913.0,928.4 894.0,931.5 897.4,917.2" fill="#f9fbfb"/><polygon points="913.0,928.4 897.4,917.2 909.9,909.4" fill="#f9fbfb"/><polygon points="913.0,928.4 909.9,909.4 924.2,912.8" fill="#f6f8f9"/><polygon points="913.0,928.4 924.2,912.8 932.0,925.3" fill="#ecf1f3"/><polygon points="913.0,928.4 932.0,925.3 928.6,939.6" fill="#fdfdfd"/><polygon points="928.6,939.6 928.6,953.5 916.1,947.4" fill="#dbe5ea"/><polygon points="916.1,947.4 906.3,957.1 901.8,944.0" fill="#f6f8f9"/><polygon points="901.8,944.0 887.9,944.0 894.0,931.5" fill="#dbe5ea"/><polygon points="894.0,931.5 884.3,921.7 897.4,917.2" fill="#ecf1f3"/><polygon points="897.4,917.2 897.4,903.3 909.9,909.4" fill="#fbfcfc"/><polygon points="909.9,909.4 919.7,899.7 924.2,912.8" fill="#dbe5ea"/><polygon points="924.2,912.8 938.1,912.8 932.0,925.3" fill="#f4f7f8"/><polygon points="932.0,925.3 941.7,935.1 928.6,939.6" fill="#f4f7f8"/><polygon points="941.7,935.1 928.6,939.6 928.6,953.5 946.0,952.1" fill="#edf2f4"/><polygon points="928.6,953.5 916.1,947.4 906.3,957.1 919.6,968.5" fill="#f9fbfb"/><polygon points="906.3,957.1 901.8,944.0 887.9,944.0 889.3,961.4" fill="#fafbfc"/><polygon points="887.9,944.0 894.0,931.5 884.3,921.7 872.9,935.0" fill="#dce6ea"/><polygon points="884.3,921.7 897.4,917.2 897.4,903.3 880.0,904.7" fill="#f4f7f8"/><polygon points="897.4,903.3 909.9,909.4 919.7,899.7 906.4,888.3" fill="#f6f8f9"/><polygon points="919.7,899.7 924.2,912.8 938.1,912.8 936.7,895.4" fill="#f4f7f8"/><polygon points="938.1,912.8 932.0,925.3 941.7,935.1 953.1,921.8" fill="#edf2f4"/><polygon points="928.6,953.5 946.0,952.1 934.4,962.9" fill="#ecf1f3"/><polygon points="928.6,953.5 934.4,962.9 919.6,968.5" fill="#edf2f4"/><polygon points="906.3,957.1 919.6,968.5 903.7,967.9" fill="#f9fbfb"/><polygon points="906.3,957.1 903.7,967.9 889.3,961.4" fill="#fbfcfc"/><polygon points="887.9,944.0 889.3,961.4 878.5,949.8" fill="#edf2f4"/><polygon points="887.9,944.0 878.5,949.8 872.9,935.0" fill="#f1f5f6"/><polygon points="884.3,921.7 872.9,935.0 873.5,919.1" fill="#f6f8f9"/><polygon points="884.3,921.7 873.5,919.1 880.0,904.7" fill="#f4f7f8"/><polygon points="897.4,903.3 880.0,904.7 891.6,893.9" fill="#fbfcfc"/><polygon points="897.4,903.3 891.6,893.9 906.4,888.3" fill="#f1f5f6"/><polygon points="919.7,899.7 906.4,888.3 922.3,888.9" fill="#f9fbfb"/><polygon points="919.7,899.7 922.3,888.9 936.7,895.4" fill="#fdfdfd"/><polygon points="938.1,912.8 936.7,895.4 947.5,907.0" fill="#f4f7f8"/><polygon points="938.1,912.8 947.5,907.0 953.1,921.8" fill="#fafbfc"/><polygon points="941.7,935.1 953.1,921.8 952.5,937.7" fill="#f1f5f6"/><polygon points="941.7,935.1 952.5,937.7 946.0,952.1" fill="#fdfdfd"/><polygon points="898.6,916.9 901.7,917.9 899.3,920.0" fill="#6f7c83" opacity="0.8"/><polygon points="928.6,940.1 932.4,941.2 929.4,943.8" fill="#6f7c83" opacity="0.8"/><polygon points="924.1,909.2 928.1,910.4 924.9,913.2" fill="#6f7c83" opacity="0.8"/><polygon points="890.3,929.0 894.2,930.2 891.1,932.9" fill="#6f7c83" opacity="0.8"/><polygon points="903.7,939.9 906.6,940.8 904.3,942.8" fill="#6f7c83" opacity="0.8"/><polygon points="925.4,939.1 929.5,940.3 926.2,943.2" fill="#6f7c83" opacity="0.8"/><polygon points="923.1,933.4 926.7,934.4 923.9,936.9" fill="#6f7c83" opacity="0.8"/><circle cx="913.0" cy="928.4" r="41" fill="none" stroke="#e8ecef" stroke-width="1"/>
<circle cx="913.0" cy="879.4" r="11.100000000000001" fill="none" stroke="#e3e6e9" stroke-width="1.1"/><circle cx="913.0" cy="879.4" r="9.8" fill="#e9ecee" stroke="#a6acb1" stroke-width="1.7"/><circle cx="913.0" cy="879.4" r="4.3" fill="#fbfcfc" stroke="#aeb3b8" stroke-width="1.4"/>
<circle cx="864.5" cy="928.4" r="11.100000000000001" fill="none" stroke="#e3e6e9" stroke-width="1.1"/><circle cx="864.5" cy="928.4" r="9.8" fill="#e9ecee" stroke="#a6acb1" stroke-width="1.7"/><circle cx="864.5" cy="928.4" r="4.3" fill="#fbfcfc" stroke="#aeb3b8" stroke-width="1.4"/>
<circle cx="961.5" cy="928.4" r="11.100000000000001" fill="none" stroke="#e3e6e9" stroke-width="1.1"/><circle cx="961.5" cy="928.4" r="9.8" fill="#e9ecee" stroke="#a6acb1" stroke-width="1.7"/><circle cx="961.5" cy="928.4" r="4.3" fill="#fbfcfc" stroke="#aeb3b8" stroke-width="1.4"/>
<circle cx="913.0" cy="976.9" r="11.100000000000001" fill="none" stroke="#e3e6e9" stroke-width="1.1"/><circle cx="913.0" cy="976.9" r="9.8" fill="#e9ecee" stroke="#a6acb1" stroke-width="1.7"/><circle cx="913.0" cy="976.9" r="4.3" fill="#fbfcfc" stroke="#aeb3b8" stroke-width="1.4"/>
<clipPath id="clip920"><path d="M911.5,1051.5 C955.06,1077.196 955.06,1142.604 911.5,1168.3 C867.94,1142.604 867.94,1077.196 911.5,1051.5Z"/></clipPath><path d="M911.5,1051.5 C955.06,1077.196 955.06,1142.604 911.5,1168.3 C867.94,1142.604 867.94,1077.196 911.5,1051.5Z" fill="#f5f8f9"/><g clip-path="url(#clip920)"><polygon points="929.6,1116.1 957.7,1109.9 954.2,1141.2" fill="#e1e9ec"/><polygon points="911.5,1109.9 929.6,1116.1 926.9,1128.0" fill="#fdfdfd"/><polygon points="929.6,1116.1 954.2,1141.2 926.9,1128.0" fill="#f4f7f8"/><polygon points="926.9,1128.0 954.2,1141.2 944.2,1167.7" fill="#d6e0e5"/><polygon points="911.5,1109.9 926.9,1128.0 921.8,1137.0" fill="#f1f5f6"/><polygon points="926.9,1128.0 944.2,1167.7 921.8,1137.0" fill="#fdfdfd"/><polygon points="921.8,1137.0 944.2,1167.7 929.2,1185.4" fill="#f1f5f6"/><polygon points="911.5,1109.9 921.8,1137.0 915.2,1141.9" fill="#f9fbfb"/><polygon points="921.8,1137.0 929.2,1185.4 915.2,1141.9" fill="#e1e9ec"/><polygon points="915.2,1141.9 929.2,1185.4 911.5,1191.7" fill="#d6e0e5"/><polygon points="911.5,1109.9 915.2,1141.9 908.0,1142.0" fill="#edf2f4"/><polygon points="915.2,1141.9 911.5,1191.7 908.0,1142.0" fill="#c7d5dc"/><polygon points="908.0,1142.0 911.5,1191.7 893.8,1185.4" fill="#ecf1f3"/><polygon points="911.5,1109.9 908.0,1142.0 901.3,1137.2" fill="#f4f7f8"/><polygon points="908.0,1142.0 893.8,1185.4 901.3,1137.2" fill="#edf2f4"/><polygon points="901.3,1137.2 893.8,1185.4 878.8,1167.7" fill="#fafbfc"/><polygon points="911.5,1109.9 901.3,1137.2 896.2,1128.2" fill="#f6f8f9"/><polygon points="901.3,1137.2 878.8,1167.7 896.2,1128.2" fill="#edf2f4"/><polygon points="896.2,1128.2 878.8,1167.7 868.8,1141.2" fill="#f9fbfb"/><polygon points="911.5,1109.9 896.2,1128.2 893.4,1116.4" fill="#edf2f4"/><polygon points="896.2,1128.2 868.8,1141.2 893.4,1116.4" fill="#f4f7f8"/><polygon points="893.4,1116.4 868.8,1141.2 865.3,1109.9" fill="#ecf1f3"/><polygon points="911.5,1109.9 893.4,1116.4 893.4,1103.7" fill="#ecf1f3"/><polygon points="893.4,1116.4 865.3,1109.9 893.4,1103.7" fill="#f9fbfb"/><polygon points="893.4,1103.7 865.3,1109.9 868.8,1078.6" fill="#f4f7f8"/><polygon points="911.5,1109.9 893.4,1103.7 896.1,1091.8" fill="#f4f7f8"/><polygon points="893.4,1103.7 868.8,1078.6 896.1,1091.8" fill="#f1f5f6"/><polygon points="896.1,1091.8 868.8,1078.6 878.8,1052.1" fill="#e1e9ec"/><polygon points="911.5,1109.9 896.1,1091.8 901.2,1082.8" fill="#fbfcfc"/><polygon points="896.1,1091.8 878.8,1052.1 901.2,1082.8" fill="#fafbfc"/><polygon points="901.2,1082.8 878.8,1052.1 893.8,1034.4" fill="#d6e0e5"/><polygon points="911.5,1109.9 901.2,1082.8 907.8,1077.9" fill="#f1f5f6"/><polygon points="901.2,1082.8 893.8,1034.4 907.8,1077.9" fill="#f8fafa"/><polygon points="907.8,1077.9 893.8,1034.4 911.5,1028.1" fill="#fdfdfd"/><polygon points="911.5,1109.9 907.8,1077.9 915.0,1077.8" fill="#ecf1f3"/><polygon points="907.8,1077.9 911.5,1028.1 915.0,1077.8" fill="#fcfcfd"/><polygon points="915.0,1077.8 911.5,1028.1 929.2,1034.4" fill="#fbfcfc"/><polygon points="911.5,1109.9 915.0,1077.8 921.7,1082.6" fill="#fbfcfc"/><polygon points="915.0,1077.8 929.2,1034.4 921.7,1082.6" fill="#fdfdfd"/><polygon points="921.7,1082.6 929.2,1034.4 944.2,1052.1" fill="#fbfcfc"/><polygon points="911.5,1109.9 921.7,1082.6 926.8,1091.6" fill="#f6f8f9"/><polygon points="921.7,1082.6 944.2,1052.1 926.8,1091.6" fill="#f6f8f9"/><polygon points="926.8,1091.6 944.2,1052.1 954.2,1078.6" fill="#fcfcfd"/><polygon points="911.5,1109.9 926.8,1091.6 929.6,1103.4" fill="#edf2f4"/><polygon points="926.8,1091.6 954.2,1078.6 929.6,1103.4" fill="#f9fbfb"/><polygon points="929.6,1103.4 954.2,1078.6 957.7,1109.9" fill="#e1e9ec"/><polygon points="911.5,1109.9 929.6,1103.4 929.6,1116.1" fill="#f9fbfb"/><polygon points="929.6,1103.4 957.7,1109.9 929.6,1116.1" fill="#c7d5dc"/><polygon points="932.2,1128.5 936.0,1129.6 933.0,1132.2" fill="#6f7c83" opacity="0.8"/><polygon points="899.6,1086.4 903.0,1087.4 900.3,1089.8" fill="#6f7c83" opacity="0.8"/><polygon points="921.9,1106.9 925.0,1107.8 922.5,1110.0" fill="#6f7c83" opacity="0.8"/><polygon points="882.3,1120.5 884.8,1121.3 882.8,1123.1" fill="#6f7c83" opacity="0.8"/><polygon points="891.2,1094.4 893.9,1095.2 891.8,1097.0" fill="#6f7c83" opacity="0.8"/></g><path d="M911.5,1051.5 C955.06,1077.196 955.06,1142.604 911.5,1168.3 C867.94,1142.604 867.94,1077.196 911.5,1051.5Z" fill="none" stroke="#dfe5e8" stroke-width="1.2"/>
<circle cx="913.0" cy="1043.0" r="11.100000000000001" fill="none" stroke="#e3e6e9" stroke-width="1.1"/><circle cx="913.0" cy="1043.0" r="9.8" fill="#e9ecee" stroke="#a6acb1" stroke-width="1.7"/><circle cx="913.0" cy="1043.0" r="4.3" fill="#fbfcfc" stroke="#aeb3b8" stroke-width="1.4"/>
<circle cx="913.5" cy="1178.0" r="11.100000000000001" fill="none" stroke="#e3e6e9" stroke-width="1.1"/><circle cx="913.5" cy="1178.0" r="9.8" fill="#e9ecee" stroke="#a6acb1" stroke-width="1.7"/><circle cx="913.5" cy="1178.0" r="4.3" fill="#fbfcfc" stroke="#aeb3b8" stroke-width="1.4"/>
<circle cx="638.5" cy="1058.7" r="43" fill="#f5f8f9" stroke="#e3e8eb" stroke-width="1"/><polygon points="638.5,1058.7 657.7,1065.0 647.6,1076.7" fill="#ecf1f3"/><polygon points="638.5,1058.7 647.6,1076.7 632.2,1077.9" fill="#f1f5f6"/><polygon points="638.5,1058.7 632.2,1077.9 620.5,1067.8" fill="#ecf1f3"/><polygon points="638.5,1058.7 620.5,1067.8 619.3,1052.4" fill="#ecf1f3"/><polygon points="638.5,1058.7 619.3,1052.4 629.4,1040.7" fill="#f1f5f6"/><polygon points="638.5,1058.7 629.4,1040.7 644.8,1039.5" fill="#f6f8f9"/><polygon points="638.5,1058.7 644.8,1039.5 656.5,1049.6" fill="#fbfcfc"/><polygon points="638.5,1058.7 656.5,1049.6 657.7,1065.0" fill="#f4f7f8"/><polygon points="657.7,1065.0 662.0,1078.9 647.6,1076.7" fill="#edf2f4"/><polygon points="647.6,1076.7 640.8,1089.6 632.2,1077.9" fill="#b9cbd4"/><polygon points="632.2,1077.9 618.3,1082.2 620.5,1067.8" fill="#dbe5ea"/><polygon points="620.5,1067.8 607.6,1061.0 619.3,1052.4" fill="#edf2f4"/><polygon points="619.3,1052.4 615.0,1038.5 629.4,1040.7" fill="#f6f8f9"/><polygon points="629.4,1040.7 636.2,1027.8 644.8,1039.5" fill="#c9d7de"/><polygon points="644.8,1039.5 658.7,1035.2 656.5,1049.6" fill="#fafbfc"/><polygon points="656.5,1049.6 669.4,1056.4 657.7,1065.0" fill="#ecf1f3"/><polygon points="669.4,1056.4 657.7,1065.0 662.0,1078.9 678.9,1072.0" fill="#f4f7f8"/><polygon points="662.0,1078.9 647.6,1076.7 640.8,1089.6 657.7,1096.7" fill="#dce6ea"/><polygon points="640.8,1089.6 632.2,1077.9 618.3,1082.2 625.2,1099.1" fill="#dce6ea"/><polygon points="618.3,1082.2 620.5,1067.8 607.6,1061.0 600.5,1077.9" fill="#ecf1f3"/><polygon points="607.6,1061.0 619.3,1052.4 615.0,1038.5 598.1,1045.4" fill="#fdfdfd"/><polygon points="615.0,1038.5 629.4,1040.7 636.2,1027.8 619.3,1020.7" fill="#f4f7f8"/><polygon points="636.2,1027.8 644.8,1039.5 658.7,1035.2 651.8,1018.3" fill="#ecf1f3"/><polygon points="658.7,1035.2 656.5,1049.6 669.4,1056.4 676.5,1039.5" fill="#f1f5f6"/><polygon points="662.0,1078.9 678.9,1072.0 670.8,1086.4" fill="#fafbfc"/><polygon points="662.0,1078.9 670.8,1086.4 657.7,1096.7" fill="#f1f5f6"/><polygon points="640.8,1089.6 657.7,1096.7 641.7,1101.1" fill="#fdfdfd"/><polygon points="640.8,1089.6 641.7,1101.1 625.2,1099.1" fill="#f6f8f9"/><polygon points="618.3,1082.2 625.2,1099.1 610.8,1091.0" fill="#edf2f4"/><polygon points="618.3,1082.2 610.8,1091.0 600.5,1077.9" fill="#f6f8f9"/><polygon points="607.6,1061.0 600.5,1077.9 596.1,1061.9" fill="#fafbfc"/><polygon points="607.6,1061.0 596.1,1061.9 598.1,1045.4" fill="#fdfdfd"/><polygon points="615.0,1038.5 598.1,1045.4 606.2,1031.0" fill="#f4f7f8"/><polygon points="615.0,1038.5 606.2,1031.0 619.3,1020.7" fill="#f9fbfb"/><polygon points="636.2,1027.8 619.3,1020.7 635.3,1016.3" fill="#fbfcfc"/><polygon points="636.2,1027.8 635.3,1016.3 651.8,1018.3" fill="#edf2f4"/><polygon points="658.7,1035.2 651.8,1018.3 666.2,1026.4" fill="#f9fbfb"/><polygon points="658.7,1035.2 666.2,1026.4 676.5,1039.5" fill="#f4f7f8"/><polygon points="669.4,1056.4 676.5,1039.5 680.9,1055.5" fill="#ecf1f3"/><polygon points="669.4,1056.4 680.9,1055.5 678.9,1072.0" fill="#fdfdfd"/><polygon points="649.7,1080.2 653.5,1081.4 650.5,1083.9" fill="#6f7c83" opacity="0.8"/><polygon points="652.0,1062.4 656.3,1063.7 652.9,1066.7" fill="#6f7c83" opacity="0.8"/><polygon points="631.7,1074.7 636.0,1076.0 632.5,1079.0" fill="#6f7c83" opacity="0.8"/><polygon points="629.1,1077.1 631.7,1077.9 629.6,1079.7" fill="#6f7c83" opacity="0.8"/><polygon points="659.1,1062.9 662.5,1063.9 659.8,1066.3" fill="#6f7c83" opacity="0.8"/><polygon points="643.1,1046.6 646.8,1047.8 643.8,1050.4" fill="#6f7c83" opacity="0.8"/><polygon points="643.2,1040.7 646.2,1041.6 643.8,1043.6" fill="#6f7c83" opacity="0.8"/><circle cx="638.5" cy="1058.7" r="43" fill="none" stroke="#e8ecef" stroke-width="1"/>
<circle cx="638.5" cy="1010.0" r="11.100000000000001" fill="none" stroke="#e3e6e9" stroke-width="1.1"/><circle cx="638.5" cy="1010.0" r="9.8" fill="#e9ecee" stroke="#a6acb1" stroke-width="1.7"/><circle cx="638.5" cy="1010.0" r="4.3" fill="#fbfcfc" stroke="#aeb3b8" stroke-width="1.4"/>
<circle cx="597.0" cy="1084.0" r="11.100000000000001" fill="none" stroke="#e3e6e9" stroke-width="1.1"/><circle cx="597.0" cy="1084.0" r="9.8" fill="#e9ecee" stroke="#a6acb1" stroke-width="1.7"/><circle cx="597.0" cy="1084.0" r="4.3" fill="#fbfcfc" stroke="#aeb3b8" stroke-width="1.4"/>
<circle cx="680.4" cy="1084.0" r="11.100000000000001" fill="none" stroke="#e3e6e9" stroke-width="1.1"/><circle cx="680.4" cy="1084.0" r="9.8" fill="#e9ecee" stroke="#a6acb1" stroke-width="1.7"/><circle cx="680.4" cy="1084.0" r="4.3" fill="#fbfcfc" stroke="#aeb3b8" stroke-width="1.4"/>
<clipPath id="clip123"><path d="M638.5,1236 C655.9,1250.4 682.0,1286.4 682.0,1315.2 C682.0,1348.8 661.12,1356 638.5,1356 C615.88,1356 595.0,1348.8 595.0,1315.2 C595.0,1286.4 621.1,1250.4 638.5,1236Z"/></clipPath><path d="M638.5,1236 C655.9,1250.4 682.0,1286.4 682.0,1315.2 C682.0,1348.8 661.12,1356 638.5,1356 C615.88,1356 595.0,1348.8 595.0,1315.2 C595.0,1286.4 621.1,1250.4 638.5,1236Z" fill="#f5f8f9"/><g clip-path="url(#clip123)"><polygon points="662.4,1314.4 699.4,1308.0 694.8,1340.1" fill="#f9fbfb"/><polygon points="638.5,1308.0 662.4,1314.4 658.8,1326.5" fill="#fbfcfc"/><polygon points="662.4,1314.4 694.8,1340.1 658.8,1326.5" fill="#f6f8f9"/><polygon points="658.8,1326.5 694.8,1340.1 681.6,1367.4" fill="#f8fafa"/><polygon points="638.5,1308.0 658.8,1326.5 652.1,1335.9" fill="#f4f7f8"/><polygon points="658.8,1326.5 681.6,1367.4 652.1,1335.9" fill="#fbfcfc"/><polygon points="652.1,1335.9 681.6,1367.4 661.8,1385.6" fill="#f6f8f9"/><polygon points="638.5,1308.0 652.1,1335.9 643.4,1340.9" fill="#f9fbfb"/><polygon points="652.1,1335.9 661.8,1385.6 643.4,1340.9" fill="#f4f7f8"/><polygon points="643.4,1340.9 661.8,1385.6 638.5,1392.0" fill="#edf2f4"/><polygon points="638.5,1308.0 643.4,1340.9 633.9,1341.0" fill="#edf2f4"/><polygon points="643.4,1340.9 638.5,1392.0 633.9,1341.0" fill="#fdfdfd"/><polygon points="633.9,1341.0 638.5,1392.0 615.2,1385.6" fill="#fdfdfd"/><polygon points="638.5,1308.0 633.9,1341.0 625.1,1336.0" fill="#f9fbfb"/><polygon points="633.9,1341.0 615.2,1385.6 625.1,1336.0" fill="#f1f5f6"/><polygon points="625.1,1336.0 615.2,1385.6 595.4,1367.4" fill="#f1f5f6"/><polygon points="638.5,1308.0 625.1,1336.0 618.3,1326.8" fill="#fdfdfd"/><polygon points="625.1,1336.0 595.4,1367.4 618.3,1326.8" fill="#edf2f4"/><polygon points="618.3,1326.8 595.4,1367.4 582.2,1340.1" fill="#fdfdfd"/><polygon points="638.5,1308.0 618.3,1326.8 614.6,1314.7" fill="#ecf1f3"/><polygon points="618.3,1326.8 582.2,1340.1 614.6,1314.7" fill="#f1f5f6"/><polygon points="614.6,1314.7 582.2,1340.1 577.6,1308.0" fill="#f9fbfb"/><polygon points="638.5,1308.0 614.6,1314.7 614.6,1301.6" fill="#f4f7f8"/><polygon points="614.6,1314.7 577.6,1308.0 614.6,1301.6" fill="#f8fafa"/><polygon points="614.6,1301.6 577.6,1308.0 582.2,1275.9" fill="#f6f8f9"/><polygon points="638.5,1308.0 614.6,1301.6 618.2,1289.5" fill="#f4f7f8"/><polygon points="614.6,1301.6 582.2,1275.9 618.2,1289.5" fill="#f6f8f9"/><polygon points="618.2,1289.5 582.2,1275.9 595.4,1248.6" fill="#f9fbfb"/><polygon points="638.5,1308.0 618.2,1289.5 624.9,1280.1" fill="#fdfdfd"/><polygon points="618.2,1289.5 595.4,1248.6 624.9,1280.1" fill="#c7d5dc"/><polygon points="624.9,1280.1 595.4,1248.6 615.2,1230.4" fill="#fafbfc"/><polygon points="638.5,1308.0 624.9,1280.1 633.6,1275.1" fill="#f6f8f9"/><polygon points="624.9,1280.1 615.2,1230.4 633.6,1275.1" fill="#f9fbfb"/><polygon points="633.6,1275.1 615.2,1230.4 638.5,1224.0" fill="#f6f8f9"/><polygon points="638.5,1308.0 633.6,1275.1 643.1,1275.0" fill="#f1f5f6"/><polygon points="633.6,1275.1 638.5,1224.0 643.1,1275.0" fill="#f1f5f6"/><polygon points="643.1,1275.0 638.5,1224.0 661.8,1230.4" fill="#f8fafa"/><polygon points="638.5,1308.0 643.1,1275.0 651.9,1280.0" fill="#f9fbfb"/><polygon points="643.1,1275.0 661.8,1230.4 651.9,1280.0" fill="#fbfcfc"/><polygon points="651.9,1280.0 661.8,1230.4 681.6,1248.6" fill="#f4f7f8"/><polygon points="638.5,1308.0 651.9,1280.0 658.7,1289.2" fill="#fafbfc"/><polygon points="651.9,1280.0 681.6,1248.6 658.7,1289.2" fill="#fbfcfc"/><polygon points="658.7,1289.2 681.6,1248.6 694.8,1275.9" fill="#fafbfc"/><polygon points="638.5,1308.0 658.7,1289.2 662.4,1301.3" fill="#f9fbfb"/><polygon points="658.7,1289.2 694.8,1275.9 662.4,1301.3" fill="#f8fafa"/><polygon points="662.4,1301.3 694.8,1275.9 699.4,1308.0" fill="#fbfcfc"/><polygon points="638.5,1308.0 662.4,1301.3 662.4,1314.4" fill="#fdfdfd"/><polygon points="662.4,1301.3 699.4,1308.0 662.4,1314.4" fill="#edf2f4"/><polygon points="644.8,1291.9 648.2,1292.9 645.4,1295.3" fill="#6f7c83" opacity="0.8"/><polygon points="602.6,1302.7 605.5,1303.6 603.2,1305.7" fill="#6f7c83" opacity="0.8"/><polygon points="610.1,1326.2 613.4,1327.2 610.8,1329.4" fill="#6f7c83" opacity="0.8"/><polygon points="625.9,1282.9 629.4,1284.0 626.6,1286.4" fill="#6f7c83" opacity="0.8"/><polygon points="659.7,1292.9 663.2,1294.0 660.4,1296.4" fill="#6f7c83" opacity="0.8"/></g><path d="M638.5,1236 C655.9,1250.4 682.0,1286.4 682.0,1315.2 C682.0,1348.8 661.12,1356 638.5,1356 C615.88,1356 595.0,1348.8 595.0,1315.2 C595.0,1286.4 621.1,1250.4 638.5,1236Z" fill="none" stroke="#dfe5e8" stroke-width="1.2"/>
<circle cx="638.5" cy="1227.0" r="11.100000000000001" fill="none" stroke="#e3e6e9" stroke-width="1.1"/><circle cx="638.5" cy="1227.0" r="9.8" fill="#e9ecee" stroke="#a6acb1" stroke-width="1.7"/><circle cx="638.5" cy="1227.0" r="4.3" fill="#fbfcfc" stroke="#aeb3b8" stroke-width="1.4"/>
<circle cx="600.7" cy="1345.0" r="11.100000000000001" fill="none" stroke="#e3e6e9" stroke-width="1.1"/><circle cx="600.7" cy="1345.0" r="9.8" fill="#e9ecee" stroke="#a6acb1" stroke-width="1.7"/><circle cx="600.7" cy="1345.0" r="4.3" fill="#fbfcfc" stroke="#aeb3b8" stroke-width="1.4"/>
<circle cx="676.3" cy="1345.0" r="11.100000000000001" fill="none" stroke="#e3e6e9" stroke-width="1.1"/><circle cx="676.3" cy="1345.0" r="9.8" fill="#e9ecee" stroke="#a6acb1" stroke-width="1.7"/><circle cx="676.3" cy="1345.0" r="4.3" fill="#fbfcfc" stroke="#aeb3b8" stroke-width="1.4"/>
<defs>
<linearGradient id="gRound" x1="0" y1="0" x2="0" y2="1">
<stop offset="0" stop-color="#e2e5e8"/><stop offset="0.1" stop-color="#fafbfb"/><stop offset="0.22" stop-color="#f6f7f8"/><stop offset="0.33" stop-color="#b2b8bd"/><stop offset="0.42" stop-color="#e8eaec"/><stop offset="0.6" stop-color="#f4f5f6"/><stop offset="0.75" stop-color="#a6acb2"/><stop offset="0.88" stop-color="#e6e8eb"/><stop offset="1" stop-color="#d8dcdf"/>
</linearGradient>
<linearGradient id="gMarq" x1="0" y1="0" x2="0" y2="1">
<stop offset="0" stop-color="#eceef0"/><stop offset="0.08" stop-color="#d5d9dd"/><stop offset="0.18" stop-color="#a9afb5"/><stop offset="0.32" stop-color="#eef0f2"/><stop offset="0.5" stop-color="#fafbfb"/><stop offset="0.62" stop-color="#e6e9eb"/><stop offset="0.72" stop-color="#a8aeb4"/><stop offset="0.84" stop-color="#f0f2f3"/><stop offset="1" stop-color="#f6f7f8"/>
</linearGradient>
<linearGradient id="gPear" x1="0" y1="0" x2="0" y2="1">
<stop offset="0" stop-color="#eceef0"/><stop offset="0.15" stop-color="#d8dce0"/><stop offset="0.3" stop-color="#afb5ba"/><stop offset="0.45" stop-color="#e2e5e8"/><stop offset="0.6" stop-color="#f2f3f5"/><stop offset="0.85" stop-color="#f8f9fa"/><stop offset="0.95" stop-color="#b0b6bb"/><stop offset="1" stop-color="#d6dadd"/>
</linearGradient>
<linearGradient id="gBar" x1="0" y1="0" x2="0" y2="1">
<stop offset="0" stop-color="#c9ced2"/><stop offset="0.3" stop-color="#f7f8f9"/><stop offset="0.7" stop-color="#eceef0"/><stop offset="1" stop-color="#b4babf"/>
</linearGradient>
<linearGradient id="gPin" x1="0" y1="0" x2="0" y2="1">
<stop offset="0" stop-color="#b5babf"/><stop offset="0.06" stop-color="#f7f8f9"/><stop offset="0.2" stop-color="#eef0f2"/><stop offset="0.26" stop-color="#8d949a"/><stop offset="0.33" stop-color="#eceef0"/><stop offset="0.5" stop-color="#f6f7f8"/><stop offset="0.66" stop-color="#e6e9eb"/><stop offset="0.7" stop-color="#8d949a"/><stop offset="0.76" stop-color="#e6e9eb"/><stop offset="0.93" stop-color="#eef0f2"/><stop offset="1" stop-color="#a9afb4"/>
</linearGradient>
<linearGradient id="gThr" x1="0" y1="0" x2="0" y2="1">
<stop offset="0" stop-color="#c9ced2"/><stop offset="0.3" stop-color="#eef0f2"/><stop offset="0.5" stop-color="#f6f7f8"/><stop offset="0.7" stop-color="#e3e6e9"/><stop offset="1" stop-color="#b9bec3"/>
</linearGradient>
<linearGradient id="gDisc" x1="0" y1="0" x2="1" y2="0">
<stop offset="0" stop-color="#dfe2e5"/><stop offset="0.2" stop-color="#f8f9f9"/><stop offset="0.45" stop-color="#a9afb5"/><stop offset="0.65" stop-color="#e8ebed"/><stop offset="0.85" stop-color="#c6cbcf"/><stop offset="1" stop-color="#e9ecee"/>
</linearGradient>
</defs>
<rect x="1459.8" y="755.5" width="97.5" height="23.3" fill="#eef0f2"/>
<rect x="1459.8" y="761" width="97.5" height="12" fill="#dfe3e6"/>
<ellipse cx="1462.50" cy="767" rx="1.6" ry="5.4" fill="#eef1f3" stroke="#878e94" stroke-width="1.6"/>
<path d="M1460.30,756.5 L1462.50,755 L1464.70,756.5" fill="none" stroke="#b9bec3" stroke-width="1"/>
<path d="M1460.30,777.8 L1462.50,779.3 L1464.70,777.8" fill="none" stroke="#b9bec3" stroke-width="1"/>
<ellipse cx="1466.85" cy="767" rx="1.6" ry="5.4" fill="#eef1f3" stroke="#878e94" stroke-width="1.6"/>
<path d="M1464.65,756.5 L1466.85,755 L1469.05,756.5" fill="none" stroke="#b9bec3" stroke-width="1"/>
<path d="M1464.65,777.8 L1466.85,779.3 L1469.05,777.8" fill="none" stroke="#b9bec3" stroke-width="1"/>
<ellipse cx="1471.20" cy="767" rx="1.6" ry="5.4" fill="#eef1f3" stroke="#878e94" stroke-width="1.6"/>
<path d="M1469.00,756.5 L1471.20,755 L1473.40,756.5" fill="none" stroke="#b9bec3" stroke-width="1"/>
<path d="M1469.00,777.8 L1471.20,779.3 L1473.40,777.8" fill="none" stroke="#b9bec3" stroke-width="1"/>
<ellipse cx="1475.55" cy="767" rx="1.6" ry="5.4" fill="#eef1f3" stroke="#878e94" stroke-width="1.6"/>
<path d="M1473.35,756.5 L1475.55,755 L1477.75,756.5" fill="none" stroke="#b9bec3" stroke-width="1"/>
<path d="M1473.35,777.8 L1475.55,779.3 L1477.75,777.8" fill="none" stroke="#b9bec3" stroke-width="1"/>
<ellipse cx="1479.90" cy="767" rx="1.6" ry="5.4" fill="#eef1f3" stroke="#878e94" stroke-width="1.6"/>
<path d="M1477.70,756.5 L1479.90,755 L1482.10,756.5" fill="none" stroke="#b9bec3" stroke-width="1"/>
<path d="M1477.70,777.8 L1479.90,779.3 L1482.10,777.8" fill="none" stroke="#b9bec3" stroke-width="1"/>
<ellipse cx="1484.25" cy="767" rx="1.6" ry="5.4" fill="#eef1f3" stroke="#878e94" stroke-width="1.6"/>
<path d="M1482.05,756.5 L1484.25,755 L1486.45,756.5" fill="none" stroke="#b9bec3" stroke-width="1"/>
<path d="M1482.05,777.8 L1484.25,779.3 L1486.45,777.8" fill="none" stroke="#b9bec3" stroke-width="1"/>
<ellipse cx="1488.60" cy="767" rx="1.6" ry="5.4" fill="#eef1f3" stroke="#878e94" stroke-width="1.6"/>
<path d="M1486.40,756.5 L1488.60,755 L1490.80,756.5" fill="none" stroke="#b9bec3" stroke-width="1"/>
<path d="M1486.40,777.8 L1488.60,779.3 L1490.80,777.8" fill="none" stroke="#b9bec3" stroke-width="1"/>
<ellipse cx="1492.95" cy="767" rx="1.6" ry="5.4" fill="#eef1f3" stroke="#878e94" stroke-width="1.6"/>
<path d="M1490.75,756.5 L1492.95,755 L1495.15,756.5" fill="none" stroke="#b9bec3" stroke-width="1"/>
<path d="M1490.75,777.8 L1492.95,779.3 L1495.15,777.8" fill="none" stroke="#b9bec3" stroke-width="1"/>
<ellipse cx="1497.30" cy="767" rx="1.6" ry="5.4" fill="#eef1f3" stroke="#878e94" stroke-width="1.6"/>
<path d="M1495.10,756.5 L1497.30,755 L1499.50,756.5" fill="none" stroke="#b9bec3" stroke-width="1"/>
<path d="M1495.10,777.8 L1497.30,779.3 L1499.50,777.8" fill="none" stroke="#b9bec3" stroke-width="1"/>
<ellipse cx="1501.65" cy="767" rx="1.6" ry="5.4" fill="#eef1f3" stroke="#878e94" stroke-width="1.6"/>
<path d="M1499.45,756.5 L1501.65,755 L1503.85,756.5" fill="none" stroke="#b9bec3" stroke-width="1"/>
<path d="M1499.45,777.8 L1501.65,779.3 L1503.85,777.8" fill="none" stroke="#b9bec3" stroke-width="1"/>
<ellipse cx="1506.00" cy="767" rx="1.6" ry="5.4" fill="#eef1f3" stroke="#878e94" stroke-width="1.6"/>
<path d="M1503.80,756.5 L1506.00,755 L1508.20,756.5" fill="none" stroke="#b9bec3" stroke-width="1"/>
<path d="M1503.80,777.8 L1506.00,779.3 L1508.20,777.8" fill="none" stroke="#b9bec3" stroke-width="1"/>
<ellipse cx="1510.35" cy="767" rx="1.6" ry="5.4" fill="#eef1f3" stroke="#878e94" stroke-width="1.6"/>
<path d="M1508.15,756.5 L1510.35,755 L1512.55,756.5" fill="none" stroke="#b9bec3" stroke-width="1"/>
<path d="M1508.15,777.8 L1510.35,779.3 L1512.55,777.8" fill="none" stroke="#b9bec3" stroke-width="1"/>
<ellipse cx="1514.70" cy="767" rx="1.6" ry="5.4" fill="#eef1f3" stroke="#878e94" stroke-width="1.6"/>
<path d="M1512.50,756.5 L1514.70,755 L1516.90,756.5" fill="none" stroke="#b9bec3" stroke-width="1"/>
<path d="M1512.50,777.8 L1514.70,779.3 L1516.90,777.8" fill="none" stroke="#b9bec3" stroke-width="1"/>
<ellipse cx="1519.05" cy="767" rx="1.6" ry="5.4" fill="#eef1f3" stroke="#878e94" stroke-width="1.6"/>
<path d="M1516.85,756.5 L1519.05,755 L1521.25,756.5" fill="none" stroke="#b9bec3" stroke-width="1"/>
<path d="M1516.85,777.8 L1519.05,779.3 L1521.25,777.8" fill="none" stroke="#b9bec3" stroke-width="1"/>
<ellipse cx="1523.40" cy="767" rx="1.6" ry="5.4" fill="#eef1f3" stroke="#878e94" stroke-width="1.6"/>
<path d="M1521.20,756.5 L1523.40,755 L1525.60,756.5" fill="none" stroke="#b9bec3" stroke-width="1"/>
<path d="M1521.20,777.8 L1523.40,779.3 L1525.60,777.8" fill="none" stroke="#b9bec3" stroke-width="1"/>
<ellipse cx="1527.75" cy="767" rx="1.6" ry="5.4" fill="#eef1f3" stroke="#878e94" stroke-width="1.6"/>
<path d="M1525.55,756.5 L1527.75,755 L1529.95,756.5" fill="none" stroke="#b9bec3" stroke-width="1"/>
<path d="M1525.55,777.8 L1527.75,779.3 L1529.95,777.8" fill="none" stroke="#b9bec3" stroke-width="1"/>
<ellipse cx="1532.10" cy="767" rx="1.6" ry="5.4" fill="#eef1f3" stroke="#878e94" stroke-width="1.6"/>
<path d="M1529.90,756.5 L1532.10,755 L1534.30,756.5" fill="none" stroke="#b9bec3" stroke-width="1"/>
<path d="M1529.90,777.8 L1532.10,779.3 L1534.30,777.8" fill="none" stroke="#b9bec3" stroke-width="1"/>
<ellipse cx="1536.45" cy="767" rx="1.6" ry="5.4" fill="#eef1f3" stroke="#878e94" stroke-width="1.6"/>
<path d="M1534.25,756.5 L1536.45,755 L1538.65,756.5" fill="none" stroke="#b9bec3" stroke-width="1"/>
<path d="M1534.25,777.8 L1536.45,779.3 L1538.65,777.8" fill="none" stroke="#b9bec3" stroke-width="1"/>
<ellipse cx="1540.80" cy="767" rx="1.6" ry="5.4" fill="#eef1f3" stroke="#878e94" stroke-width="1.6"/>
<path d="M1538.60,756.5 L1540.80,755 L1543.00,756.5" fill="none" stroke="#b9bec3" stroke-width="1"/>
<path d="M1538.60,777.8 L1540.80,779.3 L1543.00,777.8" fill="none" stroke="#b9bec3" stroke-width="1"/>
<ellipse cx="1545.15" cy="767" rx="1.6" ry="5.4" fill="#eef1f3" stroke="#878e94" stroke-width="1.6"/>
<path d="M1542.95,756.5 L1545.15,755 L1547.35,756.5" fill="none" stroke="#b9bec3" stroke-width="1"/>
<path d="M1542.95,777.8 L1545.15,779.3 L1547.35,777.8" fill="none" stroke="#b9bec3" stroke-width="1"/>
<ellipse cx="1549.50" cy="767" rx="1.6" ry="5.4" fill="#eef1f3" stroke="#878e94" stroke-width="1.6"/>
<path d="M1547.30,756.5 L1549.50,755 L1551.70,756.5" fill="none" stroke="#b9bec3" stroke-width="1"/>
<path d="M1547.30,777.8 L1549.50,779.3 L1551.70,777.8" fill="none" stroke="#b9bec3" stroke-width="1"/>
<ellipse cx="1553.85" cy="767" rx="1.6" ry="5.4" fill="#eef1f3" stroke="#878e94" stroke-width="1.6"/>
<path d="M1551.65,756.5 L1553.85,755 L1556.05,756.5" fill="none" stroke="#b9bec3" stroke-width="1"/>
<path d="M1551.65,777.8 L1553.85,779.3 L1556.05,777.8" fill="none" stroke="#b9bec3" stroke-width="1"/>
<ellipse cx="1558.20" cy="767" rx="1.6" ry="5.4" fill="#eef1f3" stroke="#878e94" stroke-width="1.6"/>
<path d="M1556.00,756.5 L1558.20,755 L1560.40,756.5" fill="none" stroke="#b9bec3" stroke-width="1"/>
<path d="M1556.00,777.8 L1558.20,779.3 L1560.40,777.8" fill="none" stroke="#b9bec3" stroke-width="1"/>
<rect x="1557.3" y="753.3" width="151" height="29" fill="url(#gPin)"/>
<line x1="1557.8" y1="753.3" x2="1557.8" y2="782.3" stroke="#b9bec3" stroke-width="1"/>
<rect x="1703.7" y="718.8" width="22.5" height="95.3" rx="9" fill="url(#gDisc)" stroke="#c0c5c9" stroke-width="1.5"/>
<rect x="1362" y="733" width="22" height="15" rx="7.5" fill="#fdfdfd" stroke="#d0d4d8" stroke-width="1.2"/><rect x="1365" y="736" width="16" height="9" rx="4.5" fill="url(#gBar)" stroke="#a2a8ae" stroke-width="1.3"/>
<rect x="1363" y="826" width="28" height="16" rx="8.0" fill="#fdfdfd" stroke="#d0d4d8" stroke-width="1.2"/><rect x="1366" y="829" width="22" height="10" rx="5.0" fill="url(#gBar)" stroke="#a2a8ae" stroke-width="1.3"/>
<clipPath id="dp1"><path d="M1394,725 C1356,749.22 1356,805.78 1394,830 Z"/></clipPath><path d="M1394,725 C1356,749.22 1356,805.78 1394,830 Z" fill="#f5f8f9" stroke="#b9c1c6" stroke-width="1.3"/><g clip-path="url(#dp1)"><path d="M1394,727 C1374.5,752.25 1374.5,802.75 1394,828" fill="none" stroke="#cfd7db" stroke-width="1.2"/><line x1="1359" y1="739.1" x2="1394" y2="745.2" stroke="#dfe5e8" stroke-width="1"/><line x1="1359" y1="745.2" x2="1394" y2="739.1" stroke="#e4e9ec" stroke-width="1"/><line x1="1359" y1="751.2" x2="1394" y2="757.3" stroke="#dfe5e8" stroke-width="1"/><line x1="1359" y1="757.3" x2="1394" y2="751.2" stroke="#e4e9ec" stroke-width="1"/><line x1="1359" y1="763.4" x2="1394" y2="769.4" stroke="#dfe5e8" stroke-width="1"/><line x1="1359" y1="769.4" x2="1394" y2="763.4" stroke="#e4e9ec" stroke-width="1"/><line x1="1359" y1="775.5" x2="1394" y2="781.5" stroke="#dfe5e8" stroke-width="1"/><line x1="1359" y1="781.5" x2="1394" y2="775.5" stroke="#e4e9ec" stroke-width="1"/><line x1="1359" y1="787.6" x2="1394" y2="793.7" stroke="#dfe5e8" stroke-width="1"/><line x1="1359" y1="793.7" x2="1394" y2="787.6" stroke="#e4e9ec" stroke-width="1"/><line x1="1359" y1="799.7" x2="1394" y2="805.8" stroke="#dfe5e8" stroke-width="1"/><line x1="1359" y1="805.8" x2="1394" y2="799.7" stroke="#e4e9ec" stroke-width="1"/><line x1="1359" y1="811.8" x2="1394" y2="817.9" stroke="#dfe5e8" stroke-width="1"/><line x1="1359" y1="817.9" x2="1394" y2="811.8" stroke="#e4e9ec" stroke-width="1"/></g>
<circle cx="1369" cy="780" r="7" fill="none" stroke="#c9ced2" stroke-width="2.5"/>
<rect x="1394" y="726.4" width="65.29999999999995" height="82.0" fill="url(#gRound)"/><line x1="1394.5" y1="726.4" x2="1394.5" y2="808.4" stroke="#3f464c" stroke-width="1.6"/><line x1="1458.3" y1="726.4" x2="1458.3" y2="808.4" stroke="#c3c8cc" stroke-width="1.2"/>
<rect x="1378" y="710" width="80.40000000000009" height="17" rx="8.5" fill="#fdfdfd" stroke="#c9ced2" stroke-width="1.3"/><rect x="1380.5" y="712.5" width="75.40000000000009" height="12" rx="6.0" fill="url(#gBar)" stroke="#8f969c" stroke-width="1.6"/>
<rect x="1381.4" y="758" width="77.89999999999986" height="18" rx="9.0" fill="#fdfdfd" stroke="#c9ced2" stroke-width="1.3"/><rect x="1383.9" y="760.5" width="72.89999999999986" height="13" rx="6.5" fill="url(#gBar)" stroke="#8f969c" stroke-width="1.6"/>
<rect x="1381.3" y="811.2" width="73.90000000000009" height="12.5" rx="6.25" fill="#fdfdfd" stroke="#c9ced2" stroke-width="1.3"/><rect x="1383.8" y="813.7" width="68.90000000000009" height="7.5" rx="3.75" fill="url(#gBar)" stroke="#8f969c" stroke-width="1.6"/>
<circle cx="1400" cy="862" r="19.5" fill="none" stroke="#cfd3d7" stroke-width="1.2"/><circle cx="1400" cy="862" r="13" fill="none" stroke="#8f969c" stroke-width="11"/><circle cx="1400" cy="862" r="13" fill="none" stroke="#f0f2f4" stroke-width="7.5"/><circle cx="1400" cy="862" r="11" fill="none" stroke="#b9bec3" stroke-width="1"/>
<circle cx="1430.2" cy="857.4" r="26.0" fill="none" stroke="#cfd3d7" stroke-width="1.2"/><circle cx="1430.2" cy="857.4" r="19.5" fill="none" stroke="#8f969c" stroke-width="11"/><circle cx="1430.2" cy="857.4" r="19.5" fill="none" stroke="#f0f2f4" stroke-width="7.5"/><circle cx="1430.2" cy="857.4" r="17.5" fill="none" stroke="#b9bec3" stroke-width="1"/>
<rect x="1425.8" y="821.5" width="11" height="34.799999999999955" rx="5.5" fill="#eef0f2" stroke="#8f969c" stroke-width="1.6"/><rect x="1429.5" y="826.5" width="3.6" height="24.799999999999955" rx="1.8" fill="#fafbfb" stroke="#b3b9be" stroke-width="1"/>
<rect x="1363.4" y="884.6" width="20.59999999999991" height="17.399999999999977" rx="8.699999999999989" fill="#fdfdfd" stroke="#d0d4d8" stroke-width="1.2"/><rect x="1366.4" y="887.6" width="14.599999999999909" height="11.399999999999977" rx="5.699999999999989" fill="url(#gBar)" stroke="#a2a8ae" stroke-width="1.3"/>
<rect x="1363" y="978" width="21" height="16" rx="8.0" fill="#fdfdfd" stroke="#d0d4d8" stroke-width="1.2"/><rect x="1366" y="981" width="15" height="10" rx="5.0" fill="url(#gBar)" stroke="#a2a8ae" stroke-width="1.3"/>
<clipPath id="dp2"><path d="M1395.4,889 C1356.6,907.5 1356.6,949.5 1395.4,968 Z"/></clipPath><path d="M1395.4,889 C1356.6,907.5 1356.6,949.5 1395.4,968 Z" fill="#f5f8f9" stroke="#b9c1c6" stroke-width="1.3"/><g clip-path="url(#dp2)"><path d="M1395.4,891 C1375.5,909.75 1375.5,947.25 1395.4,966" fill="none" stroke="#cfd7db" stroke-width="1.2"/><line x1="1359.6" y1="900.0" x2="1395.4" y2="904.5" stroke="#dfe5e8" stroke-width="1"/><line x1="1359.6" y1="904.5" x2="1395.4" y2="900.0" stroke="#e4e9ec" stroke-width="1"/><line x1="1359.6" y1="909.0" x2="1395.4" y2="913.5" stroke="#dfe5e8" stroke-width="1"/><line x1="1359.6" y1="913.5" x2="1395.4" y2="909.0" stroke="#e4e9ec" stroke-width="1"/><line x1="1359.6" y1="918.0" x2="1395.4" y2="922.5" stroke="#dfe5e8" stroke-width="1"/><line x1="1359.6" y1="922.5" x2="1395.4" y2="918.0" stroke="#e4e9ec" stroke-width="1"/><line x1="1359.6" y1="927.0" x2="1395.4" y2="931.5" stroke="#dfe5e8" stroke-width="1"/><line x1="1359.6" y1="931.5" x2="1395.4" y2="927.0" stroke="#e4e9ec" stroke-width="1"/><line x1="1359.6" y1="936.0" x2="1395.4" y2="940.5" stroke="#dfe5e8" stroke-width="1"/><line x1="1359.6" y1="940.5" x2="1395.4" y2="936.0" stroke="#e4e9ec" stroke-width="1"/><line x1="1359.6" y1="945.0" x2="1395.4" y2="949.5" stroke="#dfe5e8" stroke-width="1"/><line x1="1359.6" y1="949.5" x2="1395.4" y2="945.0" stroke="#e4e9ec" stroke-width="1"/><line x1="1359.6" y1="954.0" x2="1395.4" y2="958.5" stroke="#dfe5e8" stroke-width="1"/><line x1="1359.6" y1="958.5" x2="1395.4" y2="954.0" stroke="#e4e9ec" stroke-width="1"/></g>
<circle cx="1369.3" cy="937.8" r="6.5" fill="none" stroke="#c9ced2" stroke-width="2.5"/>
<rect x="1395.4" y="892" width="63.09999999999991" height="74" fill="url(#gRound)"/><line x1="1395.9" y1="892" x2="1395.9" y2="966" stroke="#3f464c" stroke-width="1.6"/><line x1="1457.5" y1="892" x2="1457.5" y2="966" stroke="#c3c8cc" stroke-width="1.2"/>
<rect x="1379.1" y="878" width="78.90000000000009" height="15.799999999999955" rx="7.899999999999977" fill="#fdfdfd" stroke="#c9ced2" stroke-width="1.3"/><rect x="1381.6" y="880.5" width="73.90000000000009" height="10.799999999999955" rx="5.399999999999977" fill="url(#gBar)" stroke="#8f969c" stroke-width="1.6"/>
<rect x="1380.2" y="923.7" width="77.79999999999995" height="19.59999999999991" rx="9.799999999999955" fill="#fdfdfd" stroke="#c9ced2" stroke-width="1.3"/><rect x="1382.7" y="926.2" width="72.79999999999995" height="14.599999999999909" rx="7.2999999999999545" fill="url(#gBar)" stroke="#8f969c" stroke-width="1.6"/>
<rect x="1380" y="971" width="75" height="14.700000000000045" rx="7.350000000000023" fill="#fdfdfd" stroke="#c9ced2" stroke-width="1.3"/><rect x="1382.5" y="973.5" width="70" height="9.700000000000045" rx="4.850000000000023" fill="url(#gBar)" stroke="#8f969c" stroke-width="1.6"/>
<rect x="1421.5" y="968" width="11" height="32" rx="5.5" fill="#eef0f2" stroke="#8f969c" stroke-width="1.6"/><rect x="1425.2" y="973" width="3.6" height="22" rx="1.8" fill="#fafbfb" stroke="#b3b9be" stroke-width="1"/>
<rect x="1373.7" y="1012" width="27.299999999999955" height="10.799999999999955" rx="5.399999999999977" fill="#fdfdfd" stroke="#d0d4d8" stroke-width="1.2"/><rect x="1376.7" y="1015" width="21.299999999999955" height="4.7999999999999545" rx="2.3999999999999773" fill="url(#gBar)" stroke="#a2a8ae" stroke-width="1.3"/>
<circle cx="1427" cy="1027.2" r="26.0" fill="none" stroke="#cfd3d7" stroke-width="1.2"/><circle cx="1427" cy="1027.2" r="19.5" fill="none" stroke="#8f969c" stroke-width="11"/><circle cx="1427" cy="1027.2" r="19.5" fill="none" stroke="#f0f2f4" stroke-width="7.5"/><circle cx="1427" cy="1027.2" r="17.5" fill="none" stroke="#b9bec3" stroke-width="1"/>
<rect x="1421.5" y="1000" width="11" height="30" rx="5.5" fill="#eef0f2" stroke="#8f969c" stroke-width="1.6"/><rect x="1425.2" y="1005" width="3.6" height="20" rx="1.8" fill="#fafbfb" stroke="#b3b9be" stroke-width="1"/>
<rect x="1365" y="1166.3" width="19" height="12.0" rx="6.0" fill="#fdfdfd" stroke="#d0d4d8" stroke-width="1.2"/><rect x="1368" y="1169.3" width="13" height="6.0" rx="3.0" fill="url(#gBar)" stroke="#a2a8ae" stroke-width="1.3"/>
<clipPath id="dp3"><path d="M1394.3,1022 C1360.4,1057.66 1360.4,1143.34 1394.3,1179 Z"/></clipPath><path d="M1394.3,1022 C1360.4,1057.66 1360.4,1143.34 1394.3,1179 Z" fill="#f5f8f9" stroke="#b9c1c6" stroke-width="1.3"/><g clip-path="url(#dp3)"><path d="M1394.3,1024 C1376.85,1062.25 1376.85,1138.75 1394.3,1177" fill="none" stroke="#cfd7db" stroke-width="1.2"/><line x1="1363.4" y1="1042.4" x2="1394.3" y2="1051.5" stroke="#dfe5e8" stroke-width="1"/><line x1="1363.4" y1="1051.5" x2="1394.3" y2="1042.4" stroke="#e4e9ec" stroke-width="1"/><line x1="1363.4" y1="1060.7" x2="1394.3" y2="1069.9" stroke="#dfe5e8" stroke-width="1"/><line x1="1363.4" y1="1069.9" x2="1394.3" y2="1060.7" stroke="#e4e9ec" stroke-width="1"/><line x1="1363.4" y1="1079.1" x2="1394.3" y2="1088.3" stroke="#dfe5e8" stroke-width="1"/><line x1="1363.4" y1="1088.3" x2="1394.3" y2="1079.1" stroke="#e4e9ec" stroke-width="1"/><line x1="1363.4" y1="1097.4" x2="1394.3" y2="1106.6" stroke="#dfe5e8" stroke-width="1"/><line x1="1363.4" y1="1106.6" x2="1394.3" y2="1097.4" stroke="#e4e9ec" stroke-width="1"/><line x1="1363.4" y1="1115.8" x2="1394.3" y2="1125.0" stroke="#dfe5e8" stroke-width="1"/><line x1="1363.4" y1="1125.0" x2="1394.3" y2="1115.8" stroke="#e4e9ec" stroke-width="1"/><line x1="1363.4" y1="1134.2" x2="1394.3" y2="1143.3" stroke="#dfe5e8" stroke-width="1"/><line x1="1363.4" y1="1143.3" x2="1394.3" y2="1134.2" stroke="#e4e9ec" stroke-width="1"/><line x1="1363.4" y1="1152.5" x2="1394.3" y2="1161.7" stroke="#dfe5e8" stroke-width="1"/><line x1="1363.4" y1="1161.7" x2="1394.3" y2="1152.5" stroke="#e4e9ec" stroke-width="1"/></g>
<circle cx="1373" cy="1098" r="6.5" fill="none" stroke="#c9ced2" stroke-width="2.5"/>
<rect x="1394.3" y="1058.7" width="62.0" height="128.29999999999995" fill="url(#gMarq)"/><line x1="1394.8" y1="1058.7" x2="1394.8" y2="1187" stroke="#3f464c" stroke-width="1.6"/><line x1="1455.3" y1="1058.7" x2="1455.3" y2="1187" stroke="#c3c8cc" stroke-width="1.2"/>
<rect x="1382.4" y="1046.7" width="73.89999999999986" height="12.5" rx="6.25" fill="#fdfdfd" stroke="#c9ced2" stroke-width="1.3"/><rect x="1384.9" y="1049.2" width="68.89999999999986" height="7.5" rx="3.75" fill="url(#gBar)" stroke="#8f969c" stroke-width="1.6"/>
<rect x="1381.3" y="1183" width="73.70000000000005" height="11.700000000000045" rx="5.850000000000023" fill="#fdfdfd" stroke="#c9ced2" stroke-width="1.3"/><rect x="1383.8" y="1185.5" width="68.70000000000005" height="6.7000000000000455" rx="3.3500000000000227" fill="url(#gBar)" stroke="#8f969c" stroke-width="1.6"/>
<circle cx="1417.7" cy="1208.5" r="29.5" fill="none" stroke="#cfd3d7" stroke-width="1.2"/><circle cx="1417.7" cy="1208.5" r="23" fill="none" stroke="#8f969c" stroke-width="11"/><circle cx="1417.7" cy="1208.5" r="23" fill="none" stroke="#f0f2f4" stroke-width="7.5"/><circle cx="1417.7" cy="1208.5" r="21" fill="none" stroke="#b9bec3" stroke-width="1"/>
<rect x="1413.5" y="1196" width="9" height="22" rx="4.5" fill="#eef0f2" stroke="#8f969c" stroke-width="1.6"/><rect x="1416.2" y="1201" width="3.6" height="12" rx="1.8" fill="#fafbfb" stroke="#b3b9be" stroke-width="1"/>
<clipPath id="dp4"><path d="M1388.2,1246.8 C1365.1,1271.175 1359.1,1302.5 1363.1,1320.3999999999999 C1366.1,1338.3 1380.2,1340.3 1388.2,1340.3 Z"/></clipPath><path d="M1388.2,1246.8 C1365.1,1271.175 1359.1,1302.5 1363.1,1320.3999999999999 C1366.1,1338.3 1380.2,1340.3 1388.2,1340.3 Z" fill="#f5f8f9" stroke="#b9c1c6" stroke-width="1.3"/><g clip-path="url(#dp4)"><path d="M1388.2,1248.8 C1372.65,1271.175 1372.65,1315.925 1388.2,1338.3" fill="none" stroke="#cfd7db" stroke-width="1.2"/><line x1="1361.1" y1="1259.5" x2="1388.2" y2="1264.9" stroke="#dfe5e8" stroke-width="1"/><line x1="1361.1" y1="1264.9" x2="1388.2" y2="1259.5" stroke="#e4e9ec" stroke-width="1"/><line x1="1361.1" y1="1270.3" x2="1388.2" y2="1275.6" stroke="#dfe5e8" stroke-width="1"/><line x1="1361.1" y1="1275.6" x2="1388.2" y2="1270.3" stroke="#e4e9ec" stroke-width="1"/><line x1="1361.1" y1="1281.0" x2="1388.2" y2="1286.4" stroke="#dfe5e8" stroke-width="1"/><line x1="1361.1" y1="1286.4" x2="1388.2" y2="1281.0" stroke="#e4e9ec" stroke-width="1"/><line x1="1361.1" y1="1291.8" x2="1388.2" y2="1297.1" stroke="#dfe5e8" stroke-width="1"/><line x1="1361.1" y1="1297.1" x2="1388.2" y2="1291.8" stroke="#e4e9ec" stroke-width="1"/><line x1="1361.1" y1="1302.5" x2="1388.2" y2="1307.9" stroke="#dfe5e8" stroke-width="1"/><line x1="1361.1" y1="1307.9" x2="1388.2" y2="1302.5" stroke="#e4e9ec" stroke-width="1"/><line x1="1361.1" y1="1313.2" x2="1388.2" y2="1318.6" stroke="#dfe5e8" stroke-width="1"/><line x1="1361.1" y1="1318.6" x2="1388.2" y2="1313.2" stroke="#e4e9ec" stroke-width="1"/><line x1="1361.1" y1="1324.0" x2="1388.2" y2="1329.3" stroke="#dfe5e8" stroke-width="1"/><line x1="1361.1" y1="1329.3" x2="1388.2" y2="1324.0" stroke="#e4e9ec" stroke-width="1"/></g>
<rect x="1388.2" y="1236" width="58.0" height="101.29999999999995" fill="url(#gPear)"/><line x1="1388.7" y1="1236" x2="1388.7" y2="1337.3" stroke="#3f464c" stroke-width="1.6"/><line x1="1445.2" y1="1236" x2="1445.2" y2="1337.3" stroke="#c3c8cc" stroke-width="1.2"/>
<rect x="1371.5" y="1223.3" width="74.70000000000005" height="15.700000000000045" rx="7.850000000000023" fill="#fdfdfd" stroke="#c9ced2" stroke-width="1.3"/><rect x="1374.0" y="1225.8" width="69.70000000000005" height="10.700000000000045" rx="5.350000000000023" fill="url(#gBar)" stroke="#8f969c" stroke-width="1.6"/>
<rect x="1373.4" y="1338.3" width="72.79999999999995" height="12.799999999999955" rx="6.399999999999977" fill="#fdfdfd" stroke="#c9ced2" stroke-width="1.3"/><rect x="1375.9" y="1340.8" width="67.79999999999995" height="7.7999999999999545" rx="3.8999999999999773" fill="url(#gBar)" stroke="#8f969c" stroke-width="1.6"/>
<rect x="300" y="668" width="4" height="33" fill="#000"/>
<rect x="973" y="667" width="4" height="33" fill="#000"/>
<rect x="320" y="682" width="636" height="4.8" fill="#000"/>
<polygon points="304,684.4 325.6,675 325,684.4 325.6,693" fill="#000"/>
<polygon points="972.8,684.4 952.1,675 952.8,684.4 952.1,693" fill="#000"/>
<rect x="245" y="702" width="38" height="4" fill="#000"/>
<rect x="245" y="1359" width="38" height="3.8" fill="#000"/>
<rect x="262.1" y="722" width="3.8" height="620" fill="#000"/>
<polygon points="264,706 255.2,727.7 272.9,727.7" fill="#000"/>
<polygon points="264,1359 255,1338.4 272.65,1338.4" fill="#000"/>
<rect x="922" y="1175.6" width="102" height="5.2" fill="#000"/>
<polygon points="1044.2,1178.2 1020.9,1169.1 1020.9,1186.8" fill="#000"/>
<rect x="636.2" y="1357" width="3.7" height="145" fill="#000"/>
<polygon points="638,1522.2 629.2,1498.9 647.1,1498.9" fill="#000"/>
<rect x="1614.2" y="681" width="3.7" height="52" fill="#000"/>
<polygon points="1616,752.8 1607.3,730.6 1624.7,730.6" fill="#000"/>
<rect x="1614.2" y="802" width="3.7" height="52.3" fill="#000"/>
<polygon points="1616,781.3 1607.3,804.6 1624.7,804.6" fill="#000"/>
<rect x="1353.9" y="1368.8" width="4.1" height="33" fill="#000"/>
<rect x="1462" y="1368.8" width="3.9" height="33" fill="#000"/>
<rect x="1375" y="1385.1" width="70" height="3.5" fill="#000"/>
<polygon points="1358,1386.9 1379.7,1378 1379.7,1395.6" fill="#000"/>
<polygon points="1462,1386.9 1441.3,1378 1441.3,1395.6" fill="#000"/>
</svg>
<div class="t" style="left:625.25px;top:107.70px;font-size:110px;line-height:110px;-webkit-text-stroke:1.21px #000;transform:scaleX(0.8351)">R</div>
<div class="t" style="left:693.10px;top:107.70px;font-size:110px;line-height:110px;-webkit-text-stroke:1.21px #000;transform:scaleX(0.8435)">O</div>
<div class="t" style="left:765.04px;top:107.70px;font-size:110px;line-height:110px;-webkit-text-stroke:1.21px #000;transform:scaleX(0.9112)">S</div>
<div class="t" style="left:826.56px;top:107.70px;font-size:110px;line-height:110px;-webkit-text-stroke:1.21px #000;transform:scaleX(0.8688)">E</div>
<div class="t" style="left:892.00px;top:107.70px;font-size:110px;line-height:110px;-webkit-text-stroke:1.21px #000;transform:scaleX(0.7902)">C</div>
<div class="t" style="left:982.61px;top:107.70px;font-size:110px;line-height:110px;-webkit-text-stroke:1.21px #000;transform:scaleX(0.8109)">J</div>
<div class="t" style="left:1026.76px;top:107.70px;font-size:110px;line-height:110px;-webkit-text-stroke:1.21px #000;transform:scaleX(0.8671)">E</div>
<div class="t" style="left:1089.27px;top:107.70px;font-size:110px;line-height:110px;-webkit-text-stroke:1.21px #000;transform:scaleX(0.9416)">W</div>
<div class="t" style="left:1195.65px;top:107.70px;font-size:110px;line-height:110px;-webkit-text-stroke:1.21px #000;transform:scaleX(0.8704)">E</div>
<div class="t" style="left:1260.92px;top:107.70px;font-size:110px;line-height:110px;-webkit-text-stroke:1.21px #000;transform:scaleX(0.8817)">L</div>
<div class="t" style="left:1323.25px;top:107.70px;font-size:110px;line-height:110px;-webkit-text-stroke:1.21px #000;transform:scaleX(0.8943)">S</div>
<div class="t" style="left:176.52px;top:260.19px;font-size:73.5px;line-height:73.5px;letter-spacing:0.668px;-webkit-text-stroke:0.66px #000">100%</div>
<div class="t" style="left:373.12px;top:260.19px;font-size:73.5px;line-height:73.5px;letter-spacing:1.703px;-webkit-text-stroke:0.66px #000">Real</div>
<div class="t" style="left:536.62px;top:260.19px;font-size:73.5px;line-height:73.5px;letter-spacing:3.443px;-webkit-text-stroke:0.66px #000">Diamond</div>
<div class="t" style="left:859.03px;top:260.19px;font-size:73.5px;line-height:73.5px;letter-spacing:3.160px;-webkit-text-stroke:0.66px #000">with</div>
<div class="t" style="left:1023.83px;top:260.19px;font-size:73.5px;line-height:73.5px;letter-spacing:3.496px;-webkit-text-stroke:0.66px #000">Brilliance</div>
<div class="t" style="left:1368.22px;top:260.19px;font-size:73.5px;line-height:73.5px;letter-spacing:5.093px;-webkit-text-stroke:0.66px #000">for</div>
<div class="t" style="left:1488.68px;top:260.19px;font-size:73.5px;line-height:73.5px;-webkit-text-stroke:0.66px #000;transform:scaleX(0.9714)">a</div>
<div class="t" style="left:1546.42px;top:260.19px;font-size:73.5px;line-height:73.5px;letter-spacing:2.873px;-webkit-text-stroke:0.66px #000">Lifetime</div>
<div class="t" style="left:567.78px;top:616.07px;font-size:44.5px;line-height:44.5px;-webkit-text-stroke:0.49px #000;transform:scaleX(0.9640)">15.50MM</div>
<div class="t" style="left:61.27px;top:1019.27px;font-size:44.5px;line-height:44.5px;-webkit-text-stroke:0.49px #000;transform:scaleX(0.9651)">15.00MM</div>
<div class="t" style="left:1054.59px;top:1155.23px;font-size:45.5px;line-height:45.5px;-webkit-text-stroke:0.5px #000;transform:scaleX(0.9992)">Prong-Setting</div>
<div class="t" style="left:1497.80px;top:870.55px;font-size:45px;line-height:45px;-webkit-text-stroke:0.49px #000;transform:scaleX(0.9449)">1.2MM=18</div>
<div class="t" style="left:1704.06px;top:870.55px;font-size:45px;line-height:45px;-webkit-text-stroke:0.49px #000;transform:scaleX(0.9927)">Gauge</div>
<div class="t" style="left:1341.75px;top:1413.66px;font-size:44.5px;line-height:44.5px;-webkit-text-stroke:0.49px #000;transform:scaleX(0.9459)">2.00MM</div>
<div class="t" style="left:438.11px;top:1533.65px;font-size:45px;line-height:45px;-webkit-text-stroke:0.49px #000;transform:scaleX(0.8911)">2X3</div>
<div class="t" style="left:518.99px;top:1533.65px;font-size:45px;line-height:45px;-webkit-text-stroke:0.49px #000;transform:scaleX(0.9167)">MM</div>
<div class="t" style="left:603.35px;top:1533.65px;font-size:45px;line-height:45px;-webkit-text-stroke:0.49px #000;transform:scaleX(1.0433)">Pear</div>
<div class="t" style="left:698.66px;top:1533.65px;font-size:45px;line-height:45px;-webkit-text-stroke:0.49px #000;transform:scaleX(1.0320)">Diamond</div>
<div class="t" style="left:437.53px;top:1586.45px;font-size:45px;line-height:45px;-webkit-text-stroke:0.49px #000;transform:scaleX(0.9725)">HI</div>
<div class="t" style="left:493.49px;top:1586.45px;font-size:45px;line-height:45px;-webkit-text-stroke:0.49px #000;transform:scaleX(0.9679)">Color</div>
<div class="t" style="left:602.98px;top:1586.45px;font-size:45px;line-height:45px;-webkit-text-stroke:0.49px #000;transform:scaleX(0.9357)">SI</div>
<div class="t" style="left:650.54px;top:1586.45px;font-size:45px;line-height:45px;-webkit-text-stroke:0.49px #000;transform:scaleX(1.0037)">Clarity</div>
<div class="t" style="left:576.53px;top:1810.22px;font-size:56px;line-height:56px;-webkit-text-stroke:0.62px #000;transform:scaleX(1.0195)">Includes</div>
<div class="t" style="left:782.89px;top:1810.22px;font-size:56px;line-height:56px;-webkit-text-stroke:0.62px #000;transform:scaleX(0.9881)">Certificate</div>
<div class="t" style="left:1029.23px;top:1810.22px;font-size:56px;line-height:56px;-webkit-text-stroke:0.62px #000;transform:scaleX(1.0187)">of</div>
<div class="t" style="left:1086.65px;top:1810.22px;font-size:56px;line-height:56px;-webkit-text-stroke:0.62px #000;transform:scaleX(1.0012)">Authenticity</div>
</body></html>
